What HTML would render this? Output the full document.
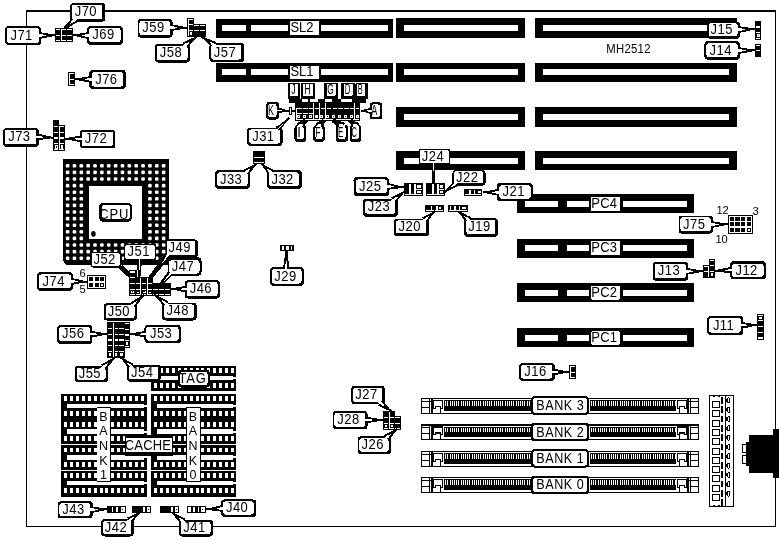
<!DOCTYPE html>
<html><head><meta charset="utf-8"><style>html,body{margin:0;padding:0;background:#fff}svg{display:block;will-change:transform}text{font-family:"Liberation Sans",sans-serif;fill:#000;}text.s{stroke:none}</style></head><body>
<svg width="779" height="540" viewBox="0 0 779 540" shape-rendering="crispEdges">
<rect width="779" height="540" fill="#fff"/>
<rect x="25.60" y="10.20" width="750.80" height="1.50" fill="#000"/>
<rect x="25.60" y="10.20" width="1.40" height="516.80" fill="#000"/>
<rect x="25.60" y="525.50" width="750.80" height="1.50" fill="#000"/>
<rect x="774.90" y="10.20" width="1.50" height="516.80" fill="#000"/>
<rect x="216.00" y="18.90" width="177.00" height="18.95" fill="#000"/>
<rect x="221.90" y="24.70" width="24.20" height="6.40" fill="#fff"/>
<rect x="251.10" y="24.70" width="136.70" height="6.40" fill="#fff"/>
<rect x="216.00" y="63.00" width="177.00" height="18.85" fill="#000"/>
<rect x="221.90" y="69.30" width="24.20" height="6.00" fill="#fff"/>
<rect x="251.10" y="69.30" width="136.70" height="6.00" fill="#fff"/>
<rect x="396.00" y="17.80" width="129.10" height="20.05" fill="#000"/>
<rect x="403.60" y="24.90" width="114.10" height="6.20" fill="#fff"/>
<rect x="535.00" y="17.80" width="201.80" height="20.05" fill="#000"/>
<rect x="543.00" y="24.90" width="186.40" height="6.20" fill="#fff"/>
<rect x="396.00" y="62.50" width="129.10" height="19.35" fill="#000"/>
<rect x="403.60" y="69.30" width="114.10" height="6.00" fill="#fff"/>
<rect x="535.00" y="62.50" width="201.80" height="19.35" fill="#000"/>
<rect x="543.00" y="69.30" width="186.40" height="6.00" fill="#fff"/>
<rect x="396.00" y="106.60" width="129.10" height="20.00" fill="#000"/>
<rect x="403.60" y="113.80" width="114.10" height="6.00" fill="#fff"/>
<rect x="535.00" y="106.60" width="201.80" height="20.00" fill="#000"/>
<rect x="543.00" y="113.80" width="186.40" height="6.00" fill="#fff"/>
<rect x="396.00" y="150.60" width="129.10" height="19.80" fill="#000"/>
<rect x="403.60" y="157.80" width="114.10" height="6.10" fill="#fff"/>
<rect x="535.00" y="150.60" width="201.80" height="19.80" fill="#000"/>
<rect x="543.00" y="157.80" width="186.40" height="6.10" fill="#fff"/>
<rect x="516.90" y="194.10" width="177.10" height="18.70" fill="#000"/>
<rect x="524.70" y="200.90" width="33.60" height="6.10" fill="#fff"/>
<rect x="567.00" y="200.90" width="120.30" height="6.10" fill="#fff"/>
<rect x="516.90" y="238.90" width="177.10" height="18.95" fill="#000"/>
<rect x="524.70" y="244.80" width="33.60" height="6.20" fill="#fff"/>
<rect x="567.00" y="244.80" width="120.30" height="6.20" fill="#fff"/>
<rect x="516.90" y="282.90" width="177.10" height="19.25" fill="#000"/>
<rect x="524.70" y="290.00" width="33.60" height="5.90" fill="#fff"/>
<rect x="567.00" y="290.00" width="120.30" height="5.90" fill="#fff"/>
<rect x="516.90" y="328.20" width="177.10" height="19.00" fill="#000"/>
<rect x="524.70" y="335.30" width="33.60" height="5.60" fill="#fff"/>
<rect x="567.00" y="335.30" width="120.30" height="5.60" fill="#fff"/>
<path d="M63.3,159.0H168.8V264.8H68.3Q63.3,264.8 63.3,259.8Z" fill="#000"/>
<rect x="89.20" y="185.80" width="52.60" height="53.00" fill="#fff"/>
<rect x="65.80" y="164.00" width="3.6" height="3.6" rx="1.2" fill="#fff" shape-rendering="auto"/>
<rect x="72.66" y="164.00" width="3.6" height="3.6" rx="1.2" fill="#fff" shape-rendering="auto"/>
<rect x="79.52" y="164.00" width="3.6" height="3.6" rx="1.2" fill="#fff" shape-rendering="auto"/>
<rect x="86.38" y="164.00" width="3.6" height="3.6" rx="1.2" fill="#fff" shape-rendering="auto"/>
<rect x="93.24" y="164.00" width="3.6" height="3.6" rx="1.2" fill="#fff" shape-rendering="auto"/>
<rect x="100.10" y="164.00" width="3.6" height="3.6" rx="1.2" fill="#fff" shape-rendering="auto"/>
<rect x="106.96" y="164.00" width="3.6" height="3.6" rx="1.2" fill="#fff" shape-rendering="auto"/>
<rect x="113.82" y="164.00" width="3.6" height="3.6" rx="1.2" fill="#fff" shape-rendering="auto"/>
<rect x="120.68" y="164.00" width="3.6" height="3.6" rx="1.2" fill="#fff" shape-rendering="auto"/>
<rect x="127.54" y="164.00" width="3.6" height="3.6" rx="1.2" fill="#fff" shape-rendering="auto"/>
<rect x="134.40" y="164.00" width="3.6" height="3.6" rx="1.2" fill="#fff" shape-rendering="auto"/>
<rect x="141.26" y="164.00" width="3.6" height="3.6" rx="1.2" fill="#fff" shape-rendering="auto"/>
<rect x="148.12" y="164.00" width="3.6" height="3.6" rx="1.2" fill="#fff" shape-rendering="auto"/>
<rect x="154.98" y="164.00" width="3.6" height="3.6" rx="1.2" fill="#fff" shape-rendering="auto"/>
<rect x="161.84" y="164.00" width="3.6" height="3.6" rx="1.2" fill="#fff" shape-rendering="auto"/>
<rect x="65.80" y="170.60" width="3.6" height="3.6" rx="1.2" fill="#fff" shape-rendering="auto"/>
<rect x="72.66" y="170.60" width="3.6" height="3.6" rx="1.2" fill="#fff" shape-rendering="auto"/>
<rect x="79.52" y="170.60" width="3.6" height="3.6" rx="1.2" fill="#fff" shape-rendering="auto"/>
<rect x="86.38" y="170.60" width="3.6" height="3.6" rx="1.2" fill="#fff" shape-rendering="auto"/>
<rect x="93.24" y="170.60" width="3.6" height="3.6" rx="1.2" fill="#fff" shape-rendering="auto"/>
<rect x="100.10" y="170.60" width="3.6" height="3.6" rx="1.2" fill="#fff" shape-rendering="auto"/>
<rect x="106.96" y="170.60" width="3.6" height="3.6" rx="1.2" fill="#fff" shape-rendering="auto"/>
<rect x="113.82" y="170.60" width="3.6" height="3.6" rx="1.2" fill="#fff" shape-rendering="auto"/>
<rect x="120.68" y="170.60" width="3.6" height="3.6" rx="1.2" fill="#fff" shape-rendering="auto"/>
<rect x="127.54" y="170.60" width="3.6" height="3.6" rx="1.2" fill="#fff" shape-rendering="auto"/>
<rect x="134.40" y="170.60" width="3.6" height="3.6" rx="1.2" fill="#fff" shape-rendering="auto"/>
<rect x="141.26" y="170.60" width="3.6" height="3.6" rx="1.2" fill="#fff" shape-rendering="auto"/>
<rect x="148.12" y="170.60" width="3.6" height="3.6" rx="1.2" fill="#fff" shape-rendering="auto"/>
<rect x="154.98" y="170.60" width="3.6" height="3.6" rx="1.2" fill="#fff" shape-rendering="auto"/>
<rect x="161.84" y="170.60" width="3.6" height="3.6" rx="1.2" fill="#fff" shape-rendering="auto"/>
<rect x="65.80" y="177.20" width="3.6" height="3.6" rx="1.2" fill="#fff" shape-rendering="auto"/>
<rect x="72.66" y="177.20" width="3.6" height="3.6" rx="1.2" fill="#fff" shape-rendering="auto"/>
<rect x="79.52" y="177.20" width="3.6" height="3.6" rx="1.2" fill="#fff" shape-rendering="auto"/>
<rect x="86.38" y="177.20" width="3.6" height="3.6" rx="1.2" fill="#fff" shape-rendering="auto"/>
<rect x="93.24" y="177.20" width="3.6" height="3.6" rx="1.2" fill="#fff" shape-rendering="auto"/>
<rect x="100.10" y="177.20" width="3.6" height="3.6" rx="1.2" fill="#fff" shape-rendering="auto"/>
<rect x="106.96" y="177.20" width="3.6" height="3.6" rx="1.2" fill="#fff" shape-rendering="auto"/>
<rect x="113.82" y="177.20" width="3.6" height="3.6" rx="1.2" fill="#fff" shape-rendering="auto"/>
<rect x="120.68" y="177.20" width="3.6" height="3.6" rx="1.2" fill="#fff" shape-rendering="auto"/>
<rect x="127.54" y="177.20" width="3.6" height="3.6" rx="1.2" fill="#fff" shape-rendering="auto"/>
<rect x="134.40" y="177.20" width="3.6" height="3.6" rx="1.2" fill="#fff" shape-rendering="auto"/>
<rect x="141.26" y="177.20" width="3.6" height="3.6" rx="1.2" fill="#fff" shape-rendering="auto"/>
<rect x="148.12" y="177.20" width="3.6" height="3.6" rx="1.2" fill="#fff" shape-rendering="auto"/>
<rect x="154.98" y="177.20" width="3.6" height="3.6" rx="1.2" fill="#fff" shape-rendering="auto"/>
<rect x="161.84" y="177.20" width="3.6" height="3.6" rx="1.2" fill="#fff" shape-rendering="auto"/>
<rect x="65.80" y="183.80" width="3.6" height="3.6" rx="1.2" fill="#fff" shape-rendering="auto"/>
<rect x="72.66" y="183.80" width="3.6" height="3.6" rx="1.2" fill="#fff" shape-rendering="auto"/>
<rect x="79.52" y="183.80" width="3.6" height="3.6" rx="1.2" fill="#fff" shape-rendering="auto"/>
<rect x="148.12" y="183.80" width="3.6" height="3.6" rx="1.2" fill="#fff" shape-rendering="auto"/>
<rect x="154.98" y="183.80" width="3.6" height="3.6" rx="1.2" fill="#fff" shape-rendering="auto"/>
<rect x="161.84" y="183.80" width="3.6" height="3.6" rx="1.2" fill="#fff" shape-rendering="auto"/>
<rect x="65.80" y="190.40" width="3.6" height="3.6" rx="1.2" fill="#fff" shape-rendering="auto"/>
<rect x="72.66" y="190.40" width="3.6" height="3.6" rx="1.2" fill="#fff" shape-rendering="auto"/>
<rect x="79.52" y="190.40" width="3.6" height="3.6" rx="1.2" fill="#fff" shape-rendering="auto"/>
<rect x="148.12" y="190.40" width="3.6" height="3.6" rx="1.2" fill="#fff" shape-rendering="auto"/>
<rect x="154.98" y="190.40" width="3.6" height="3.6" rx="1.2" fill="#fff" shape-rendering="auto"/>
<rect x="161.84" y="190.40" width="3.6" height="3.6" rx="1.2" fill="#fff" shape-rendering="auto"/>
<rect x="65.80" y="197.00" width="3.6" height="3.6" rx="1.2" fill="#fff" shape-rendering="auto"/>
<rect x="72.66" y="197.00" width="3.6" height="3.6" rx="1.2" fill="#fff" shape-rendering="auto"/>
<rect x="79.52" y="197.00" width="3.6" height="3.6" rx="1.2" fill="#fff" shape-rendering="auto"/>
<rect x="148.12" y="197.00" width="3.6" height="3.6" rx="1.2" fill="#fff" shape-rendering="auto"/>
<rect x="154.98" y="197.00" width="3.6" height="3.6" rx="1.2" fill="#fff" shape-rendering="auto"/>
<rect x="161.84" y="197.00" width="3.6" height="3.6" rx="1.2" fill="#fff" shape-rendering="auto"/>
<rect x="65.80" y="203.60" width="3.6" height="3.6" rx="1.2" fill="#fff" shape-rendering="auto"/>
<rect x="72.66" y="203.60" width="3.6" height="3.6" rx="1.2" fill="#fff" shape-rendering="auto"/>
<rect x="79.52" y="203.60" width="3.6" height="3.6" rx="1.2" fill="#fff" shape-rendering="auto"/>
<rect x="148.12" y="203.60" width="3.6" height="3.6" rx="1.2" fill="#fff" shape-rendering="auto"/>
<rect x="154.98" y="203.60" width="3.6" height="3.6" rx="1.2" fill="#fff" shape-rendering="auto"/>
<rect x="161.84" y="203.60" width="3.6" height="3.6" rx="1.2" fill="#fff" shape-rendering="auto"/>
<rect x="65.80" y="210.20" width="3.6" height="3.6" rx="1.2" fill="#fff" shape-rendering="auto"/>
<rect x="72.66" y="210.20" width="3.6" height="3.6" rx="1.2" fill="#fff" shape-rendering="auto"/>
<rect x="79.52" y="210.20" width="3.6" height="3.6" rx="1.2" fill="#fff" shape-rendering="auto"/>
<rect x="148.12" y="210.20" width="3.6" height="3.6" rx="1.2" fill="#fff" shape-rendering="auto"/>
<rect x="154.98" y="210.20" width="3.6" height="3.6" rx="1.2" fill="#fff" shape-rendering="auto"/>
<rect x="161.84" y="210.20" width="3.6" height="3.6" rx="1.2" fill="#fff" shape-rendering="auto"/>
<rect x="65.80" y="216.80" width="3.6" height="3.6" rx="1.2" fill="#fff" shape-rendering="auto"/>
<rect x="72.66" y="216.80" width="3.6" height="3.6" rx="1.2" fill="#fff" shape-rendering="auto"/>
<rect x="79.52" y="216.80" width="3.6" height="3.6" rx="1.2" fill="#fff" shape-rendering="auto"/>
<rect x="148.12" y="216.80" width="3.6" height="3.6" rx="1.2" fill="#fff" shape-rendering="auto"/>
<rect x="154.98" y="216.80" width="3.6" height="3.6" rx="1.2" fill="#fff" shape-rendering="auto"/>
<rect x="161.84" y="216.80" width="3.6" height="3.6" rx="1.2" fill="#fff" shape-rendering="auto"/>
<rect x="65.80" y="223.40" width="3.6" height="3.6" rx="1.2" fill="#fff" shape-rendering="auto"/>
<rect x="72.66" y="223.40" width="3.6" height="3.6" rx="1.2" fill="#fff" shape-rendering="auto"/>
<rect x="79.52" y="223.40" width="3.6" height="3.6" rx="1.2" fill="#fff" shape-rendering="auto"/>
<rect x="148.12" y="223.40" width="3.6" height="3.6" rx="1.2" fill="#fff" shape-rendering="auto"/>
<rect x="154.98" y="223.40" width="3.6" height="3.6" rx="1.2" fill="#fff" shape-rendering="auto"/>
<rect x="161.84" y="223.40" width="3.6" height="3.6" rx="1.2" fill="#fff" shape-rendering="auto"/>
<rect x="65.80" y="230.00" width="3.6" height="3.6" rx="1.2" fill="#fff" shape-rendering="auto"/>
<rect x="72.66" y="230.00" width="3.6" height="3.6" rx="1.2" fill="#fff" shape-rendering="auto"/>
<rect x="79.52" y="230.00" width="3.6" height="3.6" rx="1.2" fill="#fff" shape-rendering="auto"/>
<rect x="148.12" y="230.00" width="3.6" height="3.6" rx="1.2" fill="#fff" shape-rendering="auto"/>
<rect x="154.98" y="230.00" width="3.6" height="3.6" rx="1.2" fill="#fff" shape-rendering="auto"/>
<rect x="161.84" y="230.00" width="3.6" height="3.6" rx="1.2" fill="#fff" shape-rendering="auto"/>
<rect x="65.80" y="236.60" width="3.6" height="3.6" rx="1.2" fill="#fff" shape-rendering="auto"/>
<rect x="72.66" y="236.60" width="3.6" height="3.6" rx="1.2" fill="#fff" shape-rendering="auto"/>
<rect x="79.52" y="236.60" width="3.6" height="3.6" rx="1.2" fill="#fff" shape-rendering="auto"/>
<rect x="148.12" y="236.60" width="3.6" height="3.6" rx="1.2" fill="#fff" shape-rendering="auto"/>
<rect x="154.98" y="236.60" width="3.6" height="3.6" rx="1.2" fill="#fff" shape-rendering="auto"/>
<rect x="161.84" y="236.60" width="3.6" height="3.6" rx="1.2" fill="#fff" shape-rendering="auto"/>
<rect x="65.80" y="243.20" width="3.6" height="3.6" rx="1.2" fill="#fff" shape-rendering="auto"/>
<rect x="72.66" y="243.20" width="3.6" height="3.6" rx="1.2" fill="#fff" shape-rendering="auto"/>
<rect x="79.52" y="243.20" width="3.6" height="3.6" rx="1.2" fill="#fff" shape-rendering="auto"/>
<rect x="86.38" y="243.20" width="3.6" height="3.6" rx="1.2" fill="#fff" shape-rendering="auto"/>
<rect x="93.24" y="243.20" width="3.6" height="3.6" rx="1.2" fill="#fff" shape-rendering="auto"/>
<rect x="100.10" y="243.20" width="3.6" height="3.6" rx="1.2" fill="#fff" shape-rendering="auto"/>
<rect x="106.96" y="243.20" width="3.6" height="3.6" rx="1.2" fill="#fff" shape-rendering="auto"/>
<rect x="113.82" y="243.20" width="3.6" height="3.6" rx="1.2" fill="#fff" shape-rendering="auto"/>
<rect x="120.68" y="243.20" width="3.6" height="3.6" rx="1.2" fill="#fff" shape-rendering="auto"/>
<rect x="127.54" y="243.20" width="3.6" height="3.6" rx="1.2" fill="#fff" shape-rendering="auto"/>
<rect x="134.40" y="243.20" width="3.6" height="3.6" rx="1.2" fill="#fff" shape-rendering="auto"/>
<rect x="141.26" y="243.20" width="3.6" height="3.6" rx="1.2" fill="#fff" shape-rendering="auto"/>
<rect x="148.12" y="243.20" width="3.6" height="3.6" rx="1.2" fill="#fff" shape-rendering="auto"/>
<rect x="154.98" y="243.20" width="3.6" height="3.6" rx="1.2" fill="#fff" shape-rendering="auto"/>
<rect x="161.84" y="243.20" width="3.6" height="3.6" rx="1.2" fill="#fff" shape-rendering="auto"/>
<rect x="65.80" y="249.80" width="3.6" height="3.6" rx="1.2" fill="#fff" shape-rendering="auto"/>
<rect x="72.66" y="249.80" width="3.6" height="3.6" rx="1.2" fill="#fff" shape-rendering="auto"/>
<rect x="79.52" y="249.80" width="3.6" height="3.6" rx="1.2" fill="#fff" shape-rendering="auto"/>
<rect x="86.38" y="249.80" width="3.6" height="3.6" rx="1.2" fill="#fff" shape-rendering="auto"/>
<rect x="93.24" y="249.80" width="3.6" height="3.6" rx="1.2" fill="#fff" shape-rendering="auto"/>
<rect x="100.10" y="249.80" width="3.6" height="3.6" rx="1.2" fill="#fff" shape-rendering="auto"/>
<rect x="106.96" y="249.80" width="3.6" height="3.6" rx="1.2" fill="#fff" shape-rendering="auto"/>
<rect x="113.82" y="249.80" width="3.6" height="3.6" rx="1.2" fill="#fff" shape-rendering="auto"/>
<rect x="120.68" y="249.80" width="3.6" height="3.6" rx="1.2" fill="#fff" shape-rendering="auto"/>
<rect x="127.54" y="249.80" width="3.6" height="3.6" rx="1.2" fill="#fff" shape-rendering="auto"/>
<rect x="134.40" y="249.80" width="3.6" height="3.6" rx="1.2" fill="#fff" shape-rendering="auto"/>
<rect x="141.26" y="249.80" width="3.6" height="3.6" rx="1.2" fill="#fff" shape-rendering="auto"/>
<rect x="148.12" y="249.80" width="3.6" height="3.6" rx="1.2" fill="#fff" shape-rendering="auto"/>
<rect x="154.98" y="249.80" width="3.6" height="3.6" rx="1.2" fill="#fff" shape-rendering="auto"/>
<rect x="161.84" y="249.80" width="3.6" height="3.6" rx="1.2" fill="#fff" shape-rendering="auto"/>
<rect x="65.80" y="256.40" width="3.6" height="3.6" rx="1.2" fill="#fff" shape-rendering="auto"/>
<rect x="72.66" y="256.40" width="3.6" height="3.6" rx="1.2" fill="#fff" shape-rendering="auto"/>
<rect x="79.52" y="256.40" width="3.6" height="3.6" rx="1.2" fill="#fff" shape-rendering="auto"/>
<rect x="86.38" y="256.40" width="3.6" height="3.6" rx="1.2" fill="#fff" shape-rendering="auto"/>
<rect x="93.24" y="256.40" width="3.6" height="3.6" rx="1.2" fill="#fff" shape-rendering="auto"/>
<rect x="100.10" y="256.40" width="3.6" height="3.6" rx="1.2" fill="#fff" shape-rendering="auto"/>
<rect x="106.96" y="256.40" width="3.6" height="3.6" rx="1.2" fill="#fff" shape-rendering="auto"/>
<rect x="113.82" y="256.40" width="3.6" height="3.6" rx="1.2" fill="#fff" shape-rendering="auto"/>
<rect x="120.68" y="256.40" width="3.6" height="3.6" rx="1.2" fill="#fff" shape-rendering="auto"/>
<rect x="127.54" y="256.40" width="3.6" height="3.6" rx="1.2" fill="#fff" shape-rendering="auto"/>
<rect x="134.40" y="256.40" width="3.6" height="3.6" rx="1.2" fill="#fff" shape-rendering="auto"/>
<rect x="141.26" y="256.40" width="3.6" height="3.6" rx="1.2" fill="#fff" shape-rendering="auto"/>
<rect x="148.12" y="256.40" width="3.6" height="3.6" rx="1.2" fill="#fff" shape-rendering="auto"/>
<rect x="154.98" y="256.40" width="3.6" height="3.6" rx="1.2" fill="#fff" shape-rendering="auto"/>
<rect x="161.84" y="256.40" width="3.6" height="3.6" rx="1.2" fill="#fff" shape-rendering="auto"/>
<ellipse cx="93.4" cy="233.8" rx="2.3" ry="2.9" fill="#000" shape-rendering="auto"/>
<rect x="60.90" y="393.80" width="85.60" height="103.40" fill="#000"/>
<rect x="60.90" y="394.00" width="85.60" height="24.40" fill="#000"/>
<rect x="64.10" y="396.00" width="3.07" height="4.70" fill="#fff"/>
<rect x="64.10" y="410.60" width="3.07" height="5.00" fill="#fff"/>
<rect x="70.00" y="396.00" width="3.07" height="4.70" fill="#fff"/>
<rect x="70.00" y="410.60" width="3.07" height="5.00" fill="#fff"/>
<rect x="75.90" y="396.00" width="3.07" height="4.70" fill="#fff"/>
<rect x="75.90" y="410.60" width="3.07" height="5.00" fill="#fff"/>
<rect x="81.80" y="396.00" width="3.07" height="4.70" fill="#fff"/>
<rect x="81.80" y="410.60" width="3.07" height="5.00" fill="#fff"/>
<rect x="87.70" y="396.00" width="3.07" height="4.70" fill="#fff"/>
<rect x="87.70" y="410.60" width="3.07" height="5.00" fill="#fff"/>
<rect x="93.60" y="396.00" width="3.07" height="4.70" fill="#fff"/>
<rect x="93.60" y="410.60" width="3.07" height="5.00" fill="#fff"/>
<rect x="99.50" y="396.00" width="3.07" height="4.70" fill="#fff"/>
<rect x="99.50" y="410.60" width="3.07" height="5.00" fill="#fff"/>
<rect x="105.40" y="396.00" width="3.07" height="4.70" fill="#fff"/>
<rect x="105.40" y="410.60" width="3.07" height="5.00" fill="#fff"/>
<rect x="111.30" y="396.00" width="3.07" height="4.70" fill="#fff"/>
<rect x="111.30" y="410.60" width="3.07" height="5.00" fill="#fff"/>
<rect x="117.20" y="396.00" width="3.07" height="4.70" fill="#fff"/>
<rect x="117.20" y="410.60" width="3.07" height="5.00" fill="#fff"/>
<rect x="123.10" y="396.00" width="3.07" height="4.70" fill="#fff"/>
<rect x="123.10" y="410.60" width="3.07" height="5.00" fill="#fff"/>
<rect x="129.00" y="396.00" width="3.07" height="4.70" fill="#fff"/>
<rect x="129.00" y="410.60" width="3.07" height="5.00" fill="#fff"/>
<rect x="134.90" y="396.00" width="3.07" height="4.70" fill="#fff"/>
<rect x="134.90" y="410.60" width="3.07" height="5.00" fill="#fff"/>
<rect x="140.80" y="396.00" width="3.07" height="4.70" fill="#fff"/>
<rect x="140.80" y="410.60" width="3.07" height="5.00" fill="#fff"/>
<rect x="66.70" y="403.50" width="76.80" height="4.50" fill="#fff"/>
<rect x="143.50" y="404.80" width="3.00" height="2.00" fill="#fff"/>
<rect x="60.90" y="418.60" width="85.60" height="0.70" fill="#fff"/>
<rect x="60.90" y="419.80" width="85.60" height="24.40" fill="#000"/>
<rect x="64.10" y="421.80" width="3.07" height="4.70" fill="#fff"/>
<rect x="64.10" y="436.40" width="3.07" height="5.00" fill="#fff"/>
<rect x="70.00" y="421.80" width="3.07" height="4.70" fill="#fff"/>
<rect x="70.00" y="436.40" width="3.07" height="5.00" fill="#fff"/>
<rect x="75.90" y="421.80" width="3.07" height="4.70" fill="#fff"/>
<rect x="75.90" y="436.40" width="3.07" height="5.00" fill="#fff"/>
<rect x="81.80" y="421.80" width="3.07" height="4.70" fill="#fff"/>
<rect x="81.80" y="436.40" width="3.07" height="5.00" fill="#fff"/>
<rect x="87.70" y="421.80" width="3.07" height="4.70" fill="#fff"/>
<rect x="87.70" y="436.40" width="3.07" height="5.00" fill="#fff"/>
<rect x="93.60" y="421.80" width="3.07" height="4.70" fill="#fff"/>
<rect x="93.60" y="436.40" width="3.07" height="5.00" fill="#fff"/>
<rect x="99.50" y="421.80" width="3.07" height="4.70" fill="#fff"/>
<rect x="99.50" y="436.40" width="3.07" height="5.00" fill="#fff"/>
<rect x="105.40" y="421.80" width="3.07" height="4.70" fill="#fff"/>
<rect x="105.40" y="436.40" width="3.07" height="5.00" fill="#fff"/>
<rect x="111.30" y="421.80" width="3.07" height="4.70" fill="#fff"/>
<rect x="111.30" y="436.40" width="3.07" height="5.00" fill="#fff"/>
<rect x="117.20" y="421.80" width="3.07" height="4.70" fill="#fff"/>
<rect x="117.20" y="436.40" width="3.07" height="5.00" fill="#fff"/>
<rect x="123.10" y="421.80" width="3.07" height="4.70" fill="#fff"/>
<rect x="123.10" y="436.40" width="3.07" height="5.00" fill="#fff"/>
<rect x="129.00" y="421.80" width="3.07" height="4.70" fill="#fff"/>
<rect x="129.00" y="436.40" width="3.07" height="5.00" fill="#fff"/>
<rect x="134.90" y="421.80" width="3.07" height="4.70" fill="#fff"/>
<rect x="134.90" y="436.40" width="3.07" height="5.00" fill="#fff"/>
<rect x="140.80" y="421.80" width="3.07" height="4.70" fill="#fff"/>
<rect x="140.80" y="436.40" width="3.07" height="5.00" fill="#fff"/>
<rect x="66.70" y="429.30" width="76.80" height="4.50" fill="#fff"/>
<rect x="143.50" y="430.60" width="3.00" height="2.00" fill="#fff"/>
<rect x="60.90" y="444.40" width="85.60" height="0.70" fill="#fff"/>
<rect x="60.90" y="445.60" width="85.60" height="24.40" fill="#000"/>
<rect x="64.10" y="447.60" width="3.07" height="4.70" fill="#fff"/>
<rect x="64.10" y="462.20" width="3.07" height="5.00" fill="#fff"/>
<rect x="70.00" y="447.60" width="3.07" height="4.70" fill="#fff"/>
<rect x="70.00" y="462.20" width="3.07" height="5.00" fill="#fff"/>
<rect x="75.90" y="447.60" width="3.07" height="4.70" fill="#fff"/>
<rect x="75.90" y="462.20" width="3.07" height="5.00" fill="#fff"/>
<rect x="81.80" y="447.60" width="3.07" height="4.70" fill="#fff"/>
<rect x="81.80" y="462.20" width="3.07" height="5.00" fill="#fff"/>
<rect x="87.70" y="447.60" width="3.07" height="4.70" fill="#fff"/>
<rect x="87.70" y="462.20" width="3.07" height="5.00" fill="#fff"/>
<rect x="93.60" y="447.60" width="3.07" height="4.70" fill="#fff"/>
<rect x="93.60" y="462.20" width="3.07" height="5.00" fill="#fff"/>
<rect x="99.50" y="447.60" width="3.07" height="4.70" fill="#fff"/>
<rect x="99.50" y="462.20" width="3.07" height="5.00" fill="#fff"/>
<rect x="105.40" y="447.60" width="3.07" height="4.70" fill="#fff"/>
<rect x="105.40" y="462.20" width="3.07" height="5.00" fill="#fff"/>
<rect x="111.30" y="447.60" width="3.07" height="4.70" fill="#fff"/>
<rect x="111.30" y="462.20" width="3.07" height="5.00" fill="#fff"/>
<rect x="117.20" y="447.60" width="3.07" height="4.70" fill="#fff"/>
<rect x="117.20" y="462.20" width="3.07" height="5.00" fill="#fff"/>
<rect x="123.10" y="447.60" width="3.07" height="4.70" fill="#fff"/>
<rect x="123.10" y="462.20" width="3.07" height="5.00" fill="#fff"/>
<rect x="129.00" y="447.60" width="3.07" height="4.70" fill="#fff"/>
<rect x="129.00" y="462.20" width="3.07" height="5.00" fill="#fff"/>
<rect x="134.90" y="447.60" width="3.07" height="4.70" fill="#fff"/>
<rect x="134.90" y="462.20" width="3.07" height="5.00" fill="#fff"/>
<rect x="140.80" y="447.60" width="3.07" height="4.70" fill="#fff"/>
<rect x="140.80" y="462.20" width="3.07" height="5.00" fill="#fff"/>
<rect x="66.70" y="455.10" width="76.80" height="4.50" fill="#fff"/>
<rect x="143.50" y="456.40" width="3.00" height="2.00" fill="#fff"/>
<rect x="60.90" y="470.20" width="85.60" height="0.70" fill="#fff"/>
<rect x="60.90" y="471.40" width="85.60" height="24.40" fill="#000"/>
<rect x="64.10" y="473.40" width="3.07" height="4.70" fill="#fff"/>
<rect x="64.10" y="488.00" width="3.07" height="5.00" fill="#fff"/>
<rect x="70.00" y="473.40" width="3.07" height="4.70" fill="#fff"/>
<rect x="70.00" y="488.00" width="3.07" height="5.00" fill="#fff"/>
<rect x="75.90" y="473.40" width="3.07" height="4.70" fill="#fff"/>
<rect x="75.90" y="488.00" width="3.07" height="5.00" fill="#fff"/>
<rect x="81.80" y="473.40" width="3.07" height="4.70" fill="#fff"/>
<rect x="81.80" y="488.00" width="3.07" height="5.00" fill="#fff"/>
<rect x="87.70" y="473.40" width="3.07" height="4.70" fill="#fff"/>
<rect x="87.70" y="488.00" width="3.07" height="5.00" fill="#fff"/>
<rect x="93.60" y="473.40" width="3.07" height="4.70" fill="#fff"/>
<rect x="93.60" y="488.00" width="3.07" height="5.00" fill="#fff"/>
<rect x="99.50" y="473.40" width="3.07" height="4.70" fill="#fff"/>
<rect x="99.50" y="488.00" width="3.07" height="5.00" fill="#fff"/>
<rect x="105.40" y="473.40" width="3.07" height="4.70" fill="#fff"/>
<rect x="105.40" y="488.00" width="3.07" height="5.00" fill="#fff"/>
<rect x="111.30" y="473.40" width="3.07" height="4.70" fill="#fff"/>
<rect x="111.30" y="488.00" width="3.07" height="5.00" fill="#fff"/>
<rect x="117.20" y="473.40" width="3.07" height="4.70" fill="#fff"/>
<rect x="117.20" y="488.00" width="3.07" height="5.00" fill="#fff"/>
<rect x="123.10" y="473.40" width="3.07" height="4.70" fill="#fff"/>
<rect x="123.10" y="488.00" width="3.07" height="5.00" fill="#fff"/>
<rect x="129.00" y="473.40" width="3.07" height="4.70" fill="#fff"/>
<rect x="129.00" y="488.00" width="3.07" height="5.00" fill="#fff"/>
<rect x="134.90" y="473.40" width="3.07" height="4.70" fill="#fff"/>
<rect x="134.90" y="488.00" width="3.07" height="5.00" fill="#fff"/>
<rect x="140.80" y="473.40" width="3.07" height="4.70" fill="#fff"/>
<rect x="140.80" y="488.00" width="3.07" height="5.00" fill="#fff"/>
<rect x="66.70" y="480.90" width="76.80" height="4.50" fill="#fff"/>
<rect x="143.50" y="482.20" width="3.00" height="2.00" fill="#fff"/>
<rect x="151.20" y="393.80" width="85.20" height="103.40" fill="#000"/>
<rect x="151.20" y="394.00" width="85.20" height="24.40" fill="#000"/>
<rect x="154.40" y="396.00" width="3.05" height="4.70" fill="#fff"/>
<rect x="154.40" y="410.60" width="3.05" height="5.00" fill="#fff"/>
<rect x="160.27" y="396.00" width="3.05" height="4.70" fill="#fff"/>
<rect x="160.27" y="410.60" width="3.05" height="5.00" fill="#fff"/>
<rect x="166.14" y="396.00" width="3.05" height="4.70" fill="#fff"/>
<rect x="166.14" y="410.60" width="3.05" height="5.00" fill="#fff"/>
<rect x="172.01" y="396.00" width="3.05" height="4.70" fill="#fff"/>
<rect x="172.01" y="410.60" width="3.05" height="5.00" fill="#fff"/>
<rect x="177.89" y="396.00" width="3.05" height="4.70" fill="#fff"/>
<rect x="177.89" y="410.60" width="3.05" height="5.00" fill="#fff"/>
<rect x="183.76" y="396.00" width="3.05" height="4.70" fill="#fff"/>
<rect x="183.76" y="410.60" width="3.05" height="5.00" fill="#fff"/>
<rect x="189.63" y="396.00" width="3.05" height="4.70" fill="#fff"/>
<rect x="189.63" y="410.60" width="3.05" height="5.00" fill="#fff"/>
<rect x="195.50" y="396.00" width="3.05" height="4.70" fill="#fff"/>
<rect x="195.50" y="410.60" width="3.05" height="5.00" fill="#fff"/>
<rect x="201.37" y="396.00" width="3.05" height="4.70" fill="#fff"/>
<rect x="201.37" y="410.60" width="3.05" height="5.00" fill="#fff"/>
<rect x="207.24" y="396.00" width="3.05" height="4.70" fill="#fff"/>
<rect x="207.24" y="410.60" width="3.05" height="5.00" fill="#fff"/>
<rect x="213.11" y="396.00" width="3.05" height="4.70" fill="#fff"/>
<rect x="213.11" y="410.60" width="3.05" height="5.00" fill="#fff"/>
<rect x="218.99" y="396.00" width="3.05" height="4.70" fill="#fff"/>
<rect x="218.99" y="410.60" width="3.05" height="5.00" fill="#fff"/>
<rect x="224.86" y="396.00" width="3.05" height="4.70" fill="#fff"/>
<rect x="224.86" y="410.60" width="3.05" height="5.00" fill="#fff"/>
<rect x="230.73" y="396.00" width="3.05" height="4.70" fill="#fff"/>
<rect x="230.73" y="410.60" width="3.05" height="5.00" fill="#fff"/>
<rect x="157.00" y="403.50" width="76.40" height="4.50" fill="#fff"/>
<rect x="233.40" y="404.80" width="3.00" height="2.00" fill="#fff"/>
<rect x="151.20" y="418.60" width="85.20" height="0.70" fill="#fff"/>
<rect x="151.20" y="419.80" width="85.20" height="24.40" fill="#000"/>
<rect x="154.40" y="421.80" width="3.05" height="4.70" fill="#fff"/>
<rect x="154.40" y="436.40" width="3.05" height="5.00" fill="#fff"/>
<rect x="160.27" y="421.80" width="3.05" height="4.70" fill="#fff"/>
<rect x="160.27" y="436.40" width="3.05" height="5.00" fill="#fff"/>
<rect x="166.14" y="421.80" width="3.05" height="4.70" fill="#fff"/>
<rect x="166.14" y="436.40" width="3.05" height="5.00" fill="#fff"/>
<rect x="172.01" y="421.80" width="3.05" height="4.70" fill="#fff"/>
<rect x="172.01" y="436.40" width="3.05" height="5.00" fill="#fff"/>
<rect x="177.89" y="421.80" width="3.05" height="4.70" fill="#fff"/>
<rect x="177.89" y="436.40" width="3.05" height="5.00" fill="#fff"/>
<rect x="183.76" y="421.80" width="3.05" height="4.70" fill="#fff"/>
<rect x="183.76" y="436.40" width="3.05" height="5.00" fill="#fff"/>
<rect x="189.63" y="421.80" width="3.05" height="4.70" fill="#fff"/>
<rect x="189.63" y="436.40" width="3.05" height="5.00" fill="#fff"/>
<rect x="195.50" y="421.80" width="3.05" height="4.70" fill="#fff"/>
<rect x="195.50" y="436.40" width="3.05" height="5.00" fill="#fff"/>
<rect x="201.37" y="421.80" width="3.05" height="4.70" fill="#fff"/>
<rect x="201.37" y="436.40" width="3.05" height="5.00" fill="#fff"/>
<rect x="207.24" y="421.80" width="3.05" height="4.70" fill="#fff"/>
<rect x="207.24" y="436.40" width="3.05" height="5.00" fill="#fff"/>
<rect x="213.11" y="421.80" width="3.05" height="4.70" fill="#fff"/>
<rect x="213.11" y="436.40" width="3.05" height="5.00" fill="#fff"/>
<rect x="218.99" y="421.80" width="3.05" height="4.70" fill="#fff"/>
<rect x="218.99" y="436.40" width="3.05" height="5.00" fill="#fff"/>
<rect x="224.86" y="421.80" width="3.05" height="4.70" fill="#fff"/>
<rect x="224.86" y="436.40" width="3.05" height="5.00" fill="#fff"/>
<rect x="230.73" y="421.80" width="3.05" height="4.70" fill="#fff"/>
<rect x="230.73" y="436.40" width="3.05" height="5.00" fill="#fff"/>
<rect x="157.00" y="429.30" width="76.40" height="4.50" fill="#fff"/>
<rect x="233.40" y="430.60" width="3.00" height="2.00" fill="#fff"/>
<rect x="151.20" y="444.40" width="85.20" height="0.70" fill="#fff"/>
<rect x="151.20" y="445.60" width="85.20" height="24.40" fill="#000"/>
<rect x="154.40" y="447.60" width="3.05" height="4.70" fill="#fff"/>
<rect x="154.40" y="462.20" width="3.05" height="5.00" fill="#fff"/>
<rect x="160.27" y="447.60" width="3.05" height="4.70" fill="#fff"/>
<rect x="160.27" y="462.20" width="3.05" height="5.00" fill="#fff"/>
<rect x="166.14" y="447.60" width="3.05" height="4.70" fill="#fff"/>
<rect x="166.14" y="462.20" width="3.05" height="5.00" fill="#fff"/>
<rect x="172.01" y="447.60" width="3.05" height="4.70" fill="#fff"/>
<rect x="172.01" y="462.20" width="3.05" height="5.00" fill="#fff"/>
<rect x="177.89" y="447.60" width="3.05" height="4.70" fill="#fff"/>
<rect x="177.89" y="462.20" width="3.05" height="5.00" fill="#fff"/>
<rect x="183.76" y="447.60" width="3.05" height="4.70" fill="#fff"/>
<rect x="183.76" y="462.20" width="3.05" height="5.00" fill="#fff"/>
<rect x="189.63" y="447.60" width="3.05" height="4.70" fill="#fff"/>
<rect x="189.63" y="462.20" width="3.05" height="5.00" fill="#fff"/>
<rect x="195.50" y="447.60" width="3.05" height="4.70" fill="#fff"/>
<rect x="195.50" y="462.20" width="3.05" height="5.00" fill="#fff"/>
<rect x="201.37" y="447.60" width="3.05" height="4.70" fill="#fff"/>
<rect x="201.37" y="462.20" width="3.05" height="5.00" fill="#fff"/>
<rect x="207.24" y="447.60" width="3.05" height="4.70" fill="#fff"/>
<rect x="207.24" y="462.20" width="3.05" height="5.00" fill="#fff"/>
<rect x="213.11" y="447.60" width="3.05" height="4.70" fill="#fff"/>
<rect x="213.11" y="462.20" width="3.05" height="5.00" fill="#fff"/>
<rect x="218.99" y="447.60" width="3.05" height="4.70" fill="#fff"/>
<rect x="218.99" y="462.20" width="3.05" height="5.00" fill="#fff"/>
<rect x="224.86" y="447.60" width="3.05" height="4.70" fill="#fff"/>
<rect x="224.86" y="462.20" width="3.05" height="5.00" fill="#fff"/>
<rect x="230.73" y="447.60" width="3.05" height="4.70" fill="#fff"/>
<rect x="230.73" y="462.20" width="3.05" height="5.00" fill="#fff"/>
<rect x="157.00" y="455.10" width="76.40" height="4.50" fill="#fff"/>
<rect x="233.40" y="456.40" width="3.00" height="2.00" fill="#fff"/>
<rect x="151.20" y="470.20" width="85.20" height="0.70" fill="#fff"/>
<rect x="151.20" y="471.40" width="85.20" height="24.40" fill="#000"/>
<rect x="154.40" y="473.40" width="3.05" height="4.70" fill="#fff"/>
<rect x="154.40" y="488.00" width="3.05" height="5.00" fill="#fff"/>
<rect x="160.27" y="473.40" width="3.05" height="4.70" fill="#fff"/>
<rect x="160.27" y="488.00" width="3.05" height="5.00" fill="#fff"/>
<rect x="166.14" y="473.40" width="3.05" height="4.70" fill="#fff"/>
<rect x="166.14" y="488.00" width="3.05" height="5.00" fill="#fff"/>
<rect x="172.01" y="473.40" width="3.05" height="4.70" fill="#fff"/>
<rect x="172.01" y="488.00" width="3.05" height="5.00" fill="#fff"/>
<rect x="177.89" y="473.40" width="3.05" height="4.70" fill="#fff"/>
<rect x="177.89" y="488.00" width="3.05" height="5.00" fill="#fff"/>
<rect x="183.76" y="473.40" width="3.05" height="4.70" fill="#fff"/>
<rect x="183.76" y="488.00" width="3.05" height="5.00" fill="#fff"/>
<rect x="189.63" y="473.40" width="3.05" height="4.70" fill="#fff"/>
<rect x="189.63" y="488.00" width="3.05" height="5.00" fill="#fff"/>
<rect x="195.50" y="473.40" width="3.05" height="4.70" fill="#fff"/>
<rect x="195.50" y="488.00" width="3.05" height="5.00" fill="#fff"/>
<rect x="201.37" y="473.40" width="3.05" height="4.70" fill="#fff"/>
<rect x="201.37" y="488.00" width="3.05" height="5.00" fill="#fff"/>
<rect x="207.24" y="473.40" width="3.05" height="4.70" fill="#fff"/>
<rect x="207.24" y="488.00" width="3.05" height="5.00" fill="#fff"/>
<rect x="213.11" y="473.40" width="3.05" height="4.70" fill="#fff"/>
<rect x="213.11" y="488.00" width="3.05" height="5.00" fill="#fff"/>
<rect x="218.99" y="473.40" width="3.05" height="4.70" fill="#fff"/>
<rect x="218.99" y="488.00" width="3.05" height="5.00" fill="#fff"/>
<rect x="224.86" y="473.40" width="3.05" height="4.70" fill="#fff"/>
<rect x="224.86" y="488.00" width="3.05" height="5.00" fill="#fff"/>
<rect x="230.73" y="473.40" width="3.05" height="4.70" fill="#fff"/>
<rect x="230.73" y="488.00" width="3.05" height="5.00" fill="#fff"/>
<rect x="157.00" y="480.90" width="76.40" height="4.50" fill="#fff"/>
<rect x="233.40" y="482.20" width="3.00" height="2.00" fill="#fff"/>
<rect x="151.20" y="366.30" width="85.20" height="24.50" fill="#000"/>
<rect x="151.20" y="366.30" width="85.20" height="24.40" fill="#000"/>
<rect x="154.40" y="368.30" width="3.05" height="4.70" fill="#fff"/>
<rect x="154.40" y="382.90" width="3.05" height="5.00" fill="#fff"/>
<rect x="160.27" y="368.30" width="3.05" height="4.70" fill="#fff"/>
<rect x="160.27" y="382.90" width="3.05" height="5.00" fill="#fff"/>
<rect x="166.14" y="368.30" width="3.05" height="4.70" fill="#fff"/>
<rect x="166.14" y="382.90" width="3.05" height="5.00" fill="#fff"/>
<rect x="172.01" y="368.30" width="3.05" height="4.70" fill="#fff"/>
<rect x="172.01" y="382.90" width="3.05" height="5.00" fill="#fff"/>
<rect x="177.89" y="368.30" width="3.05" height="4.70" fill="#fff"/>
<rect x="177.89" y="382.90" width="3.05" height="5.00" fill="#fff"/>
<rect x="183.76" y="368.30" width="3.05" height="4.70" fill="#fff"/>
<rect x="183.76" y="382.90" width="3.05" height="5.00" fill="#fff"/>
<rect x="189.63" y="368.30" width="3.05" height="4.70" fill="#fff"/>
<rect x="189.63" y="382.90" width="3.05" height="5.00" fill="#fff"/>
<rect x="195.50" y="368.30" width="3.05" height="4.70" fill="#fff"/>
<rect x="195.50" y="382.90" width="3.05" height="5.00" fill="#fff"/>
<rect x="201.37" y="368.30" width="3.05" height="4.70" fill="#fff"/>
<rect x="201.37" y="382.90" width="3.05" height="5.00" fill="#fff"/>
<rect x="207.24" y="368.30" width="3.05" height="4.70" fill="#fff"/>
<rect x="207.24" y="382.90" width="3.05" height="5.00" fill="#fff"/>
<rect x="213.11" y="368.30" width="3.05" height="4.70" fill="#fff"/>
<rect x="213.11" y="382.90" width="3.05" height="5.00" fill="#fff"/>
<rect x="218.99" y="368.30" width="3.05" height="4.70" fill="#fff"/>
<rect x="218.99" y="382.90" width="3.05" height="5.00" fill="#fff"/>
<rect x="224.86" y="368.30" width="3.05" height="4.70" fill="#fff"/>
<rect x="224.86" y="382.90" width="3.05" height="5.00" fill="#fff"/>
<rect x="230.73" y="368.30" width="3.05" height="4.70" fill="#fff"/>
<rect x="230.73" y="382.90" width="3.05" height="5.00" fill="#fff"/>
<rect x="157.00" y="375.80" width="76.40" height="4.50" fill="#fff"/>
<rect x="233.40" y="377.10" width="3.00" height="2.00" fill="#fff"/>
<rect x="709.00" y="395.00" width="25.00" height="111.70" fill="#000"/>
<rect x="710.00" y="396.00" width="23.00" height="109.70" fill="#fff"/>
<rect x="712.00" y="401.00" width="7.90" height="7.00" fill="#000"/>
<rect x="713.00" y="402.00" width="5.90" height="5.00" fill="#fff"/>
<rect x="721.20" y="397.00" width="1.70" height="6.60" fill="#000"/>
<rect x="727.40" y="397.40" width="2.60" height="6.00" fill="#000" rx="1"/>
<rect x="728.30" y="398.40" width="0.80" height="4.00" fill="#fff"/>
<rect x="725.50" y="398.80" width="2.10" height="3.20" fill="#000"/>
<rect x="712.00" y="410.31" width="7.90" height="7.00" fill="#000"/>
<rect x="713.00" y="411.31" width="5.90" height="5.00" fill="#fff"/>
<rect x="721.20" y="406.31" width="1.70" height="6.60" fill="#000"/>
<rect x="727.40" y="406.71" width="2.60" height="6.00" fill="#000" rx="1"/>
<rect x="728.30" y="407.71" width="0.80" height="4.00" fill="#fff"/>
<rect x="725.50" y="408.11" width="2.10" height="3.20" fill="#000"/>
<rect x="712.00" y="419.62" width="7.90" height="7.00" fill="#000"/>
<rect x="713.00" y="420.62" width="5.90" height="5.00" fill="#fff"/>
<rect x="721.20" y="415.62" width="1.70" height="6.60" fill="#000"/>
<rect x="727.40" y="416.02" width="2.60" height="6.00" fill="#000" rx="1"/>
<rect x="728.30" y="417.02" width="0.80" height="4.00" fill="#fff"/>
<rect x="725.50" y="417.42" width="2.10" height="3.20" fill="#000"/>
<rect x="712.00" y="428.93" width="7.90" height="7.00" fill="#000"/>
<rect x="713.00" y="429.93" width="5.90" height="5.00" fill="#fff"/>
<rect x="721.20" y="424.93" width="1.70" height="6.60" fill="#000"/>
<rect x="727.40" y="425.33" width="2.60" height="6.00" fill="#000" rx="1"/>
<rect x="728.30" y="426.33" width="0.80" height="4.00" fill="#fff"/>
<rect x="725.50" y="426.73" width="2.10" height="3.20" fill="#000"/>
<rect x="712.00" y="438.24" width="7.90" height="7.00" fill="#000"/>
<rect x="713.00" y="439.24" width="5.90" height="5.00" fill="#fff"/>
<rect x="721.20" y="434.24" width="1.70" height="6.60" fill="#000"/>
<rect x="727.40" y="434.64" width="2.60" height="6.00" fill="#000" rx="1"/>
<rect x="728.30" y="435.64" width="0.80" height="4.00" fill="#fff"/>
<rect x="725.50" y="436.04" width="2.10" height="3.20" fill="#000"/>
<rect x="712.00" y="447.55" width="7.90" height="7.00" fill="#000"/>
<rect x="713.00" y="448.55" width="5.90" height="5.00" fill="#fff"/>
<rect x="721.20" y="443.55" width="1.70" height="6.60" fill="#000"/>
<rect x="727.40" y="443.95" width="2.60" height="6.00" fill="#000" rx="1"/>
<rect x="728.30" y="444.95" width="0.80" height="4.00" fill="#fff"/>
<rect x="725.50" y="445.35" width="2.10" height="3.20" fill="#000"/>
<rect x="712.00" y="456.86" width="7.90" height="7.00" fill="#000"/>
<rect x="713.00" y="457.86" width="5.90" height="5.00" fill="#fff"/>
<rect x="721.20" y="452.86" width="1.70" height="6.60" fill="#000"/>
<rect x="727.40" y="453.26" width="2.60" height="6.00" fill="#000" rx="1"/>
<rect x="728.30" y="454.26" width="0.80" height="4.00" fill="#fff"/>
<rect x="725.50" y="454.66" width="2.10" height="3.20" fill="#000"/>
<rect x="712.00" y="466.17" width="7.90" height="7.00" fill="#000"/>
<rect x="713.00" y="467.17" width="5.90" height="5.00" fill="#fff"/>
<rect x="721.20" y="462.17" width="1.70" height="6.60" fill="#000"/>
<rect x="727.40" y="462.57" width="2.60" height="6.00" fill="#000" rx="1"/>
<rect x="728.30" y="463.57" width="0.80" height="4.00" fill="#fff"/>
<rect x="725.50" y="463.97" width="2.10" height="3.20" fill="#000"/>
<rect x="712.00" y="475.48" width="7.90" height="7.00" fill="#000"/>
<rect x="713.00" y="476.48" width="5.90" height="5.00" fill="#fff"/>
<rect x="721.20" y="471.48" width="1.70" height="6.60" fill="#000"/>
<rect x="727.40" y="471.88" width="2.60" height="6.00" fill="#000" rx="1"/>
<rect x="728.30" y="472.88" width="0.80" height="4.00" fill="#fff"/>
<rect x="725.50" y="473.28" width="2.10" height="3.20" fill="#000"/>
<rect x="712.00" y="484.79" width="7.90" height="7.00" fill="#000"/>
<rect x="713.00" y="485.79" width="5.90" height="5.00" fill="#fff"/>
<rect x="721.20" y="480.79" width="1.70" height="6.60" fill="#000"/>
<rect x="727.40" y="481.19" width="2.60" height="6.00" fill="#000" rx="1"/>
<rect x="728.30" y="482.19" width="0.80" height="4.00" fill="#fff"/>
<rect x="725.50" y="482.59" width="2.10" height="3.20" fill="#000"/>
<rect x="712.00" y="494.10" width="7.90" height="7.00" fill="#000"/>
<rect x="713.00" y="495.10" width="5.90" height="5.00" fill="#fff"/>
<rect x="721.20" y="490.10" width="1.70" height="6.60" fill="#000"/>
<rect x="727.40" y="490.50" width="2.60" height="6.00" fill="#000" rx="1"/>
<rect x="728.30" y="491.50" width="0.80" height="4.00" fill="#fff"/>
<rect x="725.50" y="491.90" width="2.10" height="3.20" fill="#000"/>
<rect x="721.20" y="499.40" width="1.70" height="6.30" fill="#000"/>
<rect x="725.20" y="395.00" width="0.90" height="111.70" fill="#000"/>
<rect x="713.00" y="395.00" width="2.00" height="2.00" fill="#000"/>
<rect x="717.50" y="395.00" width="2.00" height="2.00" fill="#000"/>
<rect x="713.00" y="504.70" width="2.00" height="2.00" fill="#000"/>
<rect x="717.50" y="504.70" width="2.00" height="2.00" fill="#000"/>
<rect x="749.00" y="435.00" width="30.00" height="38.00" fill="#000"/>
<rect x="773.20" y="429.30" width="5.80" height="49.00" fill="#000"/>
<rect x="746.00" y="442.20" width="3.20" height="23.40" fill="#000"/>
<rect x="742.00" y="443.80" width="4.50" height="8.80" fill="#000"/>
<rect x="743.00" y="444.80" width="3.00" height="6.80" fill="#fff"/>
<rect x="742.00" y="455.40" width="4.50" height="8.20" fill="#000"/>
<rect x="743.00" y="456.40" width="3.00" height="6.20" fill="#fff"/>
<rect x="421.00" y="398.00" width="278.10" height="15.80" fill="#000"/>
<rect x="422.00" y="399.10" width="276.10" height="13.60" fill="#fff"/>
<rect x="421.00" y="400.90" width="8.80" height="1.10" fill="#000"/>
<rect x="421.00" y="406.90" width="8.80" height="1.10" fill="#000"/>
<rect x="428.90" y="398.00" width="0.90" height="15.80" fill="#000"/>
<rect x="431.10" y="399.10" width="1.80" height="13.60" fill="#000"/>
<rect x="429.80" y="401.20" width="1.30" height="0.80" fill="#000"/>
<rect x="433.10" y="400.00" width="9.80" height="8.90" fill="#000"/>
<rect x="434.20" y="401.10" width="7.80" height="4.80" fill="#fff"/>
<rect x="434.20" y="405.90" width="0.90" height="1.90" fill="#fff"/>
<rect x="441.00" y="405.90" width="1.00" height="1.90" fill="#fff"/>
<rect x="435.10" y="407.10" width="4.90" height="5.10" fill="#fff"/>
<rect x="440.00" y="407.00" width="1.10" height="5.70" fill="#000"/>
<rect x="435.10" y="406.00" width="0.90" height="2.90" fill="#000"/>
<rect x="690.30" y="400.90" width="8.80" height="1.10" fill="#000"/>
<rect x="690.30" y="406.90" width="8.80" height="1.10" fill="#000"/>
<rect x="690.30" y="398.00" width="0.90" height="15.80" fill="#000"/>
<rect x="687.20" y="399.10" width="1.80" height="13.60" fill="#000"/>
<rect x="689.00" y="401.20" width="1.30" height="0.80" fill="#000"/>
<rect x="677.20" y="400.00" width="9.80" height="8.90" fill="#000"/>
<rect x="678.10" y="401.10" width="7.80" height="4.80" fill="#fff"/>
<rect x="685.00" y="405.90" width="0.90" height="1.90" fill="#fff"/>
<rect x="678.10" y="405.90" width="1.00" height="1.90" fill="#fff"/>
<rect x="680.10" y="407.10" width="4.90" height="5.10" fill="#fff"/>
<rect x="679.00" y="407.00" width="1.10" height="5.70" fill="#000"/>
<rect x="684.10" y="406.00" width="0.90" height="2.90" fill="#000"/>
<rect x="444.20" y="400.20" width="86.80" height="10.60" fill="#000"/>
<rect x="445.10" y="401.10" width="1.00" height="4.90" fill="#fff"/>
<rect x="447.30" y="401.10" width="1.00" height="4.90" fill="#fff"/>
<rect x="449.50" y="401.10" width="1.00" height="4.90" fill="#fff"/>
<rect x="451.70" y="401.10" width="1.00" height="4.90" fill="#fff"/>
<rect x="453.90" y="401.10" width="1.00" height="4.90" fill="#fff"/>
<rect x="456.10" y="401.10" width="1.00" height="4.90" fill="#fff"/>
<rect x="458.30" y="401.10" width="1.00" height="4.90" fill="#fff"/>
<rect x="460.50" y="401.10" width="1.00" height="4.90" fill="#fff"/>
<rect x="462.70" y="401.10" width="1.00" height="4.90" fill="#fff"/>
<rect x="464.90" y="401.10" width="1.00" height="4.90" fill="#fff"/>
<rect x="467.10" y="401.10" width="1.00" height="4.90" fill="#fff"/>
<rect x="469.30" y="401.10" width="1.00" height="4.90" fill="#fff"/>
<rect x="471.50" y="401.10" width="1.00" height="4.90" fill="#fff"/>
<rect x="473.70" y="401.10" width="1.00" height="4.90" fill="#fff"/>
<rect x="475.90" y="401.10" width="1.00" height="4.90" fill="#fff"/>
<rect x="478.10" y="401.10" width="1.00" height="4.90" fill="#fff"/>
<rect x="480.30" y="401.10" width="1.00" height="4.90" fill="#fff"/>
<rect x="482.50" y="401.10" width="1.00" height="4.90" fill="#fff"/>
<rect x="484.70" y="401.10" width="1.00" height="4.90" fill="#fff"/>
<rect x="486.90" y="401.10" width="1.00" height="4.90" fill="#fff"/>
<rect x="489.10" y="401.10" width="1.00" height="4.90" fill="#fff"/>
<rect x="491.30" y="401.10" width="1.00" height="4.90" fill="#fff"/>
<rect x="493.50" y="401.10" width="1.00" height="4.90" fill="#fff"/>
<rect x="495.70" y="401.10" width="1.00" height="4.90" fill="#fff"/>
<rect x="497.90" y="401.10" width="1.00" height="4.90" fill="#fff"/>
<rect x="500.10" y="401.10" width="1.00" height="4.90" fill="#fff"/>
<rect x="502.30" y="401.10" width="1.00" height="4.90" fill="#fff"/>
<rect x="504.50" y="401.10" width="1.00" height="4.90" fill="#fff"/>
<rect x="506.70" y="401.10" width="1.00" height="4.90" fill="#fff"/>
<rect x="508.90" y="401.10" width="1.00" height="4.90" fill="#fff"/>
<rect x="511.10" y="401.10" width="1.00" height="4.90" fill="#fff"/>
<rect x="513.30" y="401.10" width="1.00" height="4.90" fill="#fff"/>
<rect x="515.50" y="401.10" width="1.00" height="4.90" fill="#fff"/>
<rect x="517.70" y="401.10" width="1.00" height="4.90" fill="#fff"/>
<rect x="519.90" y="401.10" width="1.00" height="4.90" fill="#fff"/>
<rect x="522.10" y="401.10" width="1.00" height="4.90" fill="#fff"/>
<rect x="524.30" y="401.10" width="1.00" height="4.90" fill="#fff"/>
<rect x="526.50" y="401.10" width="1.00" height="4.90" fill="#fff"/>
<rect x="528.70" y="401.10" width="1.00" height="4.90" fill="#fff"/>
<rect x="590.00" y="400.20" width="85.90" height="10.60" fill="#000"/>
<rect x="590.90" y="401.10" width="1.00" height="4.90" fill="#fff"/>
<rect x="593.10" y="401.10" width="1.00" height="4.90" fill="#fff"/>
<rect x="595.30" y="401.10" width="1.00" height="4.90" fill="#fff"/>
<rect x="597.50" y="401.10" width="1.00" height="4.90" fill="#fff"/>
<rect x="599.70" y="401.10" width="1.00" height="4.90" fill="#fff"/>
<rect x="601.90" y="401.10" width="1.00" height="4.90" fill="#fff"/>
<rect x="604.10" y="401.10" width="1.00" height="4.90" fill="#fff"/>
<rect x="606.30" y="401.10" width="1.00" height="4.90" fill="#fff"/>
<rect x="608.50" y="401.10" width="1.00" height="4.90" fill="#fff"/>
<rect x="610.70" y="401.10" width="1.00" height="4.90" fill="#fff"/>
<rect x="612.90" y="401.10" width="1.00" height="4.90" fill="#fff"/>
<rect x="615.10" y="401.10" width="1.00" height="4.90" fill="#fff"/>
<rect x="617.30" y="401.10" width="1.00" height="4.90" fill="#fff"/>
<rect x="619.50" y="401.10" width="1.00" height="4.90" fill="#fff"/>
<rect x="621.70" y="401.10" width="1.00" height="4.90" fill="#fff"/>
<rect x="623.90" y="401.10" width="1.00" height="4.90" fill="#fff"/>
<rect x="626.10" y="401.10" width="1.00" height="4.90" fill="#fff"/>
<rect x="628.30" y="401.10" width="1.00" height="4.90" fill="#fff"/>
<rect x="630.50" y="401.10" width="1.00" height="4.90" fill="#fff"/>
<rect x="632.70" y="401.10" width="1.00" height="4.90" fill="#fff"/>
<rect x="634.90" y="401.10" width="1.00" height="4.90" fill="#fff"/>
<rect x="637.10" y="401.10" width="1.00" height="4.90" fill="#fff"/>
<rect x="639.30" y="401.10" width="1.00" height="4.90" fill="#fff"/>
<rect x="641.50" y="401.10" width="1.00" height="4.90" fill="#fff"/>
<rect x="643.70" y="401.10" width="1.00" height="4.90" fill="#fff"/>
<rect x="645.90" y="401.10" width="1.00" height="4.90" fill="#fff"/>
<rect x="648.10" y="401.10" width="1.00" height="4.90" fill="#fff"/>
<rect x="650.30" y="401.10" width="1.00" height="4.90" fill="#fff"/>
<rect x="652.50" y="401.10" width="1.00" height="4.90" fill="#fff"/>
<rect x="654.70" y="401.10" width="1.00" height="4.90" fill="#fff"/>
<rect x="656.90" y="401.10" width="1.00" height="4.90" fill="#fff"/>
<rect x="659.10" y="401.10" width="1.00" height="4.90" fill="#fff"/>
<rect x="661.30" y="401.10" width="1.00" height="4.90" fill="#fff"/>
<rect x="663.50" y="401.10" width="1.00" height="4.90" fill="#fff"/>
<rect x="665.70" y="401.10" width="1.00" height="4.90" fill="#fff"/>
<rect x="667.90" y="401.10" width="1.00" height="4.90" fill="#fff"/>
<rect x="670.10" y="401.10" width="1.00" height="4.90" fill="#fff"/>
<rect x="672.30" y="401.10" width="1.00" height="4.90" fill="#fff"/>
<rect x="674.50" y="401.10" width="1.00" height="4.90" fill="#fff"/>
<rect x="421.00" y="424.40" width="278.10" height="15.80" fill="#000"/>
<rect x="422.00" y="425.50" width="276.10" height="13.60" fill="#fff"/>
<rect x="421.00" y="427.30" width="8.80" height="1.10" fill="#000"/>
<rect x="421.00" y="433.30" width="8.80" height="1.10" fill="#000"/>
<rect x="428.90" y="424.40" width="0.90" height="15.80" fill="#000"/>
<rect x="431.10" y="425.50" width="1.80" height="13.60" fill="#000"/>
<rect x="429.80" y="427.60" width="1.30" height="0.80" fill="#000"/>
<rect x="433.10" y="426.40" width="9.80" height="8.90" fill="#000"/>
<rect x="434.20" y="427.50" width="7.80" height="4.80" fill="#fff"/>
<rect x="434.20" y="432.30" width="0.90" height="1.90" fill="#fff"/>
<rect x="441.00" y="432.30" width="1.00" height="1.90" fill="#fff"/>
<rect x="435.10" y="433.50" width="4.90" height="5.10" fill="#fff"/>
<rect x="440.00" y="433.40" width="1.10" height="5.70" fill="#000"/>
<rect x="435.10" y="432.40" width="0.90" height="2.90" fill="#000"/>
<rect x="690.30" y="427.30" width="8.80" height="1.10" fill="#000"/>
<rect x="690.30" y="433.30" width="8.80" height="1.10" fill="#000"/>
<rect x="690.30" y="424.40" width="0.90" height="15.80" fill="#000"/>
<rect x="687.20" y="425.50" width="1.80" height="13.60" fill="#000"/>
<rect x="689.00" y="427.60" width="1.30" height="0.80" fill="#000"/>
<rect x="677.20" y="426.40" width="9.80" height="8.90" fill="#000"/>
<rect x="678.10" y="427.50" width="7.80" height="4.80" fill="#fff"/>
<rect x="685.00" y="432.30" width="0.90" height="1.90" fill="#fff"/>
<rect x="678.10" y="432.30" width="1.00" height="1.90" fill="#fff"/>
<rect x="680.10" y="433.50" width="4.90" height="5.10" fill="#fff"/>
<rect x="679.00" y="433.40" width="1.10" height="5.70" fill="#000"/>
<rect x="684.10" y="432.40" width="0.90" height="2.90" fill="#000"/>
<rect x="444.20" y="426.60" width="86.80" height="10.60" fill="#000"/>
<rect x="445.10" y="427.50" width="1.00" height="4.90" fill="#fff"/>
<rect x="447.30" y="427.50" width="1.00" height="4.90" fill="#fff"/>
<rect x="449.50" y="427.50" width="1.00" height="4.90" fill="#fff"/>
<rect x="451.70" y="427.50" width="1.00" height="4.90" fill="#fff"/>
<rect x="453.90" y="427.50" width="1.00" height="4.90" fill="#fff"/>
<rect x="456.10" y="427.50" width="1.00" height="4.90" fill="#fff"/>
<rect x="458.30" y="427.50" width="1.00" height="4.90" fill="#fff"/>
<rect x="460.50" y="427.50" width="1.00" height="4.90" fill="#fff"/>
<rect x="462.70" y="427.50" width="1.00" height="4.90" fill="#fff"/>
<rect x="464.90" y="427.50" width="1.00" height="4.90" fill="#fff"/>
<rect x="467.10" y="427.50" width="1.00" height="4.90" fill="#fff"/>
<rect x="469.30" y="427.50" width="1.00" height="4.90" fill="#fff"/>
<rect x="471.50" y="427.50" width="1.00" height="4.90" fill="#fff"/>
<rect x="473.70" y="427.50" width="1.00" height="4.90" fill="#fff"/>
<rect x="475.90" y="427.50" width="1.00" height="4.90" fill="#fff"/>
<rect x="478.10" y="427.50" width="1.00" height="4.90" fill="#fff"/>
<rect x="480.30" y="427.50" width="1.00" height="4.90" fill="#fff"/>
<rect x="482.50" y="427.50" width="1.00" height="4.90" fill="#fff"/>
<rect x="484.70" y="427.50" width="1.00" height="4.90" fill="#fff"/>
<rect x="486.90" y="427.50" width="1.00" height="4.90" fill="#fff"/>
<rect x="489.10" y="427.50" width="1.00" height="4.90" fill="#fff"/>
<rect x="491.30" y="427.50" width="1.00" height="4.90" fill="#fff"/>
<rect x="493.50" y="427.50" width="1.00" height="4.90" fill="#fff"/>
<rect x="495.70" y="427.50" width="1.00" height="4.90" fill="#fff"/>
<rect x="497.90" y="427.50" width="1.00" height="4.90" fill="#fff"/>
<rect x="500.10" y="427.50" width="1.00" height="4.90" fill="#fff"/>
<rect x="502.30" y="427.50" width="1.00" height="4.90" fill="#fff"/>
<rect x="504.50" y="427.50" width="1.00" height="4.90" fill="#fff"/>
<rect x="506.70" y="427.50" width="1.00" height="4.90" fill="#fff"/>
<rect x="508.90" y="427.50" width="1.00" height="4.90" fill="#fff"/>
<rect x="511.10" y="427.50" width="1.00" height="4.90" fill="#fff"/>
<rect x="513.30" y="427.50" width="1.00" height="4.90" fill="#fff"/>
<rect x="515.50" y="427.50" width="1.00" height="4.90" fill="#fff"/>
<rect x="517.70" y="427.50" width="1.00" height="4.90" fill="#fff"/>
<rect x="519.90" y="427.50" width="1.00" height="4.90" fill="#fff"/>
<rect x="522.10" y="427.50" width="1.00" height="4.90" fill="#fff"/>
<rect x="524.30" y="427.50" width="1.00" height="4.90" fill="#fff"/>
<rect x="526.50" y="427.50" width="1.00" height="4.90" fill="#fff"/>
<rect x="528.70" y="427.50" width="1.00" height="4.90" fill="#fff"/>
<rect x="590.00" y="426.60" width="85.90" height="10.60" fill="#000"/>
<rect x="590.90" y="427.50" width="1.00" height="4.90" fill="#fff"/>
<rect x="593.10" y="427.50" width="1.00" height="4.90" fill="#fff"/>
<rect x="595.30" y="427.50" width="1.00" height="4.90" fill="#fff"/>
<rect x="597.50" y="427.50" width="1.00" height="4.90" fill="#fff"/>
<rect x="599.70" y="427.50" width="1.00" height="4.90" fill="#fff"/>
<rect x="601.90" y="427.50" width="1.00" height="4.90" fill="#fff"/>
<rect x="604.10" y="427.50" width="1.00" height="4.90" fill="#fff"/>
<rect x="606.30" y="427.50" width="1.00" height="4.90" fill="#fff"/>
<rect x="608.50" y="427.50" width="1.00" height="4.90" fill="#fff"/>
<rect x="610.70" y="427.50" width="1.00" height="4.90" fill="#fff"/>
<rect x="612.90" y="427.50" width="1.00" height="4.90" fill="#fff"/>
<rect x="615.10" y="427.50" width="1.00" height="4.90" fill="#fff"/>
<rect x="617.30" y="427.50" width="1.00" height="4.90" fill="#fff"/>
<rect x="619.50" y="427.50" width="1.00" height="4.90" fill="#fff"/>
<rect x="621.70" y="427.50" width="1.00" height="4.90" fill="#fff"/>
<rect x="623.90" y="427.50" width="1.00" height="4.90" fill="#fff"/>
<rect x="626.10" y="427.50" width="1.00" height="4.90" fill="#fff"/>
<rect x="628.30" y="427.50" width="1.00" height="4.90" fill="#fff"/>
<rect x="630.50" y="427.50" width="1.00" height="4.90" fill="#fff"/>
<rect x="632.70" y="427.50" width="1.00" height="4.90" fill="#fff"/>
<rect x="634.90" y="427.50" width="1.00" height="4.90" fill="#fff"/>
<rect x="637.10" y="427.50" width="1.00" height="4.90" fill="#fff"/>
<rect x="639.30" y="427.50" width="1.00" height="4.90" fill="#fff"/>
<rect x="641.50" y="427.50" width="1.00" height="4.90" fill="#fff"/>
<rect x="643.70" y="427.50" width="1.00" height="4.90" fill="#fff"/>
<rect x="645.90" y="427.50" width="1.00" height="4.90" fill="#fff"/>
<rect x="648.10" y="427.50" width="1.00" height="4.90" fill="#fff"/>
<rect x="650.30" y="427.50" width="1.00" height="4.90" fill="#fff"/>
<rect x="652.50" y="427.50" width="1.00" height="4.90" fill="#fff"/>
<rect x="654.70" y="427.50" width="1.00" height="4.90" fill="#fff"/>
<rect x="656.90" y="427.50" width="1.00" height="4.90" fill="#fff"/>
<rect x="659.10" y="427.50" width="1.00" height="4.90" fill="#fff"/>
<rect x="661.30" y="427.50" width="1.00" height="4.90" fill="#fff"/>
<rect x="663.50" y="427.50" width="1.00" height="4.90" fill="#fff"/>
<rect x="665.70" y="427.50" width="1.00" height="4.90" fill="#fff"/>
<rect x="667.90" y="427.50" width="1.00" height="4.90" fill="#fff"/>
<rect x="670.10" y="427.50" width="1.00" height="4.90" fill="#fff"/>
<rect x="672.30" y="427.50" width="1.00" height="4.90" fill="#fff"/>
<rect x="674.50" y="427.50" width="1.00" height="4.90" fill="#fff"/>
<rect x="421.00" y="450.80" width="278.10" height="15.80" fill="#000"/>
<rect x="422.00" y="451.90" width="276.10" height="13.60" fill="#fff"/>
<rect x="421.00" y="453.70" width="8.80" height="1.10" fill="#000"/>
<rect x="421.00" y="459.70" width="8.80" height="1.10" fill="#000"/>
<rect x="428.90" y="450.80" width="0.90" height="15.80" fill="#000"/>
<rect x="431.10" y="451.90" width="1.80" height="13.60" fill="#000"/>
<rect x="429.80" y="454.00" width="1.30" height="0.80" fill="#000"/>
<rect x="433.10" y="452.80" width="9.80" height="8.90" fill="#000"/>
<rect x="434.20" y="453.90" width="7.80" height="4.80" fill="#fff"/>
<rect x="434.20" y="458.70" width="0.90" height="1.90" fill="#fff"/>
<rect x="441.00" y="458.70" width="1.00" height="1.90" fill="#fff"/>
<rect x="435.10" y="459.90" width="4.90" height="5.10" fill="#fff"/>
<rect x="440.00" y="459.80" width="1.10" height="5.70" fill="#000"/>
<rect x="435.10" y="458.80" width="0.90" height="2.90" fill="#000"/>
<rect x="690.30" y="453.70" width="8.80" height="1.10" fill="#000"/>
<rect x="690.30" y="459.70" width="8.80" height="1.10" fill="#000"/>
<rect x="690.30" y="450.80" width="0.90" height="15.80" fill="#000"/>
<rect x="687.20" y="451.90" width="1.80" height="13.60" fill="#000"/>
<rect x="689.00" y="454.00" width="1.30" height="0.80" fill="#000"/>
<rect x="677.20" y="452.80" width="9.80" height="8.90" fill="#000"/>
<rect x="678.10" y="453.90" width="7.80" height="4.80" fill="#fff"/>
<rect x="685.00" y="458.70" width="0.90" height="1.90" fill="#fff"/>
<rect x="678.10" y="458.70" width="1.00" height="1.90" fill="#fff"/>
<rect x="680.10" y="459.90" width="4.90" height="5.10" fill="#fff"/>
<rect x="679.00" y="459.80" width="1.10" height="5.70" fill="#000"/>
<rect x="684.10" y="458.80" width="0.90" height="2.90" fill="#000"/>
<rect x="444.20" y="453.00" width="86.80" height="10.60" fill="#000"/>
<rect x="445.10" y="453.90" width="1.00" height="4.90" fill="#fff"/>
<rect x="447.30" y="453.90" width="1.00" height="4.90" fill="#fff"/>
<rect x="449.50" y="453.90" width="1.00" height="4.90" fill="#fff"/>
<rect x="451.70" y="453.90" width="1.00" height="4.90" fill="#fff"/>
<rect x="453.90" y="453.90" width="1.00" height="4.90" fill="#fff"/>
<rect x="456.10" y="453.90" width="1.00" height="4.90" fill="#fff"/>
<rect x="458.30" y="453.90" width="1.00" height="4.90" fill="#fff"/>
<rect x="460.50" y="453.90" width="1.00" height="4.90" fill="#fff"/>
<rect x="462.70" y="453.90" width="1.00" height="4.90" fill="#fff"/>
<rect x="464.90" y="453.90" width="1.00" height="4.90" fill="#fff"/>
<rect x="467.10" y="453.90" width="1.00" height="4.90" fill="#fff"/>
<rect x="469.30" y="453.90" width="1.00" height="4.90" fill="#fff"/>
<rect x="471.50" y="453.90" width="1.00" height="4.90" fill="#fff"/>
<rect x="473.70" y="453.90" width="1.00" height="4.90" fill="#fff"/>
<rect x="475.90" y="453.90" width="1.00" height="4.90" fill="#fff"/>
<rect x="478.10" y="453.90" width="1.00" height="4.90" fill="#fff"/>
<rect x="480.30" y="453.90" width="1.00" height="4.90" fill="#fff"/>
<rect x="482.50" y="453.90" width="1.00" height="4.90" fill="#fff"/>
<rect x="484.70" y="453.90" width="1.00" height="4.90" fill="#fff"/>
<rect x="486.90" y="453.90" width="1.00" height="4.90" fill="#fff"/>
<rect x="489.10" y="453.90" width="1.00" height="4.90" fill="#fff"/>
<rect x="491.30" y="453.90" width="1.00" height="4.90" fill="#fff"/>
<rect x="493.50" y="453.90" width="1.00" height="4.90" fill="#fff"/>
<rect x="495.70" y="453.90" width="1.00" height="4.90" fill="#fff"/>
<rect x="497.90" y="453.90" width="1.00" height="4.90" fill="#fff"/>
<rect x="500.10" y="453.90" width="1.00" height="4.90" fill="#fff"/>
<rect x="502.30" y="453.90" width="1.00" height="4.90" fill="#fff"/>
<rect x="504.50" y="453.90" width="1.00" height="4.90" fill="#fff"/>
<rect x="506.70" y="453.90" width="1.00" height="4.90" fill="#fff"/>
<rect x="508.90" y="453.90" width="1.00" height="4.90" fill="#fff"/>
<rect x="511.10" y="453.90" width="1.00" height="4.90" fill="#fff"/>
<rect x="513.30" y="453.90" width="1.00" height="4.90" fill="#fff"/>
<rect x="515.50" y="453.90" width="1.00" height="4.90" fill="#fff"/>
<rect x="517.70" y="453.90" width="1.00" height="4.90" fill="#fff"/>
<rect x="519.90" y="453.90" width="1.00" height="4.90" fill="#fff"/>
<rect x="522.10" y="453.90" width="1.00" height="4.90" fill="#fff"/>
<rect x="524.30" y="453.90" width="1.00" height="4.90" fill="#fff"/>
<rect x="526.50" y="453.90" width="1.00" height="4.90" fill="#fff"/>
<rect x="528.70" y="453.90" width="1.00" height="4.90" fill="#fff"/>
<rect x="590.00" y="453.00" width="85.90" height="10.60" fill="#000"/>
<rect x="590.90" y="453.90" width="1.00" height="4.90" fill="#fff"/>
<rect x="593.10" y="453.90" width="1.00" height="4.90" fill="#fff"/>
<rect x="595.30" y="453.90" width="1.00" height="4.90" fill="#fff"/>
<rect x="597.50" y="453.90" width="1.00" height="4.90" fill="#fff"/>
<rect x="599.70" y="453.90" width="1.00" height="4.90" fill="#fff"/>
<rect x="601.90" y="453.90" width="1.00" height="4.90" fill="#fff"/>
<rect x="604.10" y="453.90" width="1.00" height="4.90" fill="#fff"/>
<rect x="606.30" y="453.90" width="1.00" height="4.90" fill="#fff"/>
<rect x="608.50" y="453.90" width="1.00" height="4.90" fill="#fff"/>
<rect x="610.70" y="453.90" width="1.00" height="4.90" fill="#fff"/>
<rect x="612.90" y="453.90" width="1.00" height="4.90" fill="#fff"/>
<rect x="615.10" y="453.90" width="1.00" height="4.90" fill="#fff"/>
<rect x="617.30" y="453.90" width="1.00" height="4.90" fill="#fff"/>
<rect x="619.50" y="453.90" width="1.00" height="4.90" fill="#fff"/>
<rect x="621.70" y="453.90" width="1.00" height="4.90" fill="#fff"/>
<rect x="623.90" y="453.90" width="1.00" height="4.90" fill="#fff"/>
<rect x="626.10" y="453.90" width="1.00" height="4.90" fill="#fff"/>
<rect x="628.30" y="453.90" width="1.00" height="4.90" fill="#fff"/>
<rect x="630.50" y="453.90" width="1.00" height="4.90" fill="#fff"/>
<rect x="632.70" y="453.90" width="1.00" height="4.90" fill="#fff"/>
<rect x="634.90" y="453.90" width="1.00" height="4.90" fill="#fff"/>
<rect x="637.10" y="453.90" width="1.00" height="4.90" fill="#fff"/>
<rect x="639.30" y="453.90" width="1.00" height="4.90" fill="#fff"/>
<rect x="641.50" y="453.90" width="1.00" height="4.90" fill="#fff"/>
<rect x="643.70" y="453.90" width="1.00" height="4.90" fill="#fff"/>
<rect x="645.90" y="453.90" width="1.00" height="4.90" fill="#fff"/>
<rect x="648.10" y="453.90" width="1.00" height="4.90" fill="#fff"/>
<rect x="650.30" y="453.90" width="1.00" height="4.90" fill="#fff"/>
<rect x="652.50" y="453.90" width="1.00" height="4.90" fill="#fff"/>
<rect x="654.70" y="453.90" width="1.00" height="4.90" fill="#fff"/>
<rect x="656.90" y="453.90" width="1.00" height="4.90" fill="#fff"/>
<rect x="659.10" y="453.90" width="1.00" height="4.90" fill="#fff"/>
<rect x="661.30" y="453.90" width="1.00" height="4.90" fill="#fff"/>
<rect x="663.50" y="453.90" width="1.00" height="4.90" fill="#fff"/>
<rect x="665.70" y="453.90" width="1.00" height="4.90" fill="#fff"/>
<rect x="667.90" y="453.90" width="1.00" height="4.90" fill="#fff"/>
<rect x="670.10" y="453.90" width="1.00" height="4.90" fill="#fff"/>
<rect x="672.30" y="453.90" width="1.00" height="4.90" fill="#fff"/>
<rect x="674.50" y="453.90" width="1.00" height="4.90" fill="#fff"/>
<rect x="421.00" y="477.20" width="278.10" height="15.80" fill="#000"/>
<rect x="422.00" y="478.30" width="276.10" height="13.60" fill="#fff"/>
<rect x="421.00" y="480.10" width="8.80" height="1.10" fill="#000"/>
<rect x="421.00" y="486.10" width="8.80" height="1.10" fill="#000"/>
<rect x="428.90" y="477.20" width="0.90" height="15.80" fill="#000"/>
<rect x="431.10" y="478.30" width="1.80" height="13.60" fill="#000"/>
<rect x="429.80" y="480.40" width="1.30" height="0.80" fill="#000"/>
<rect x="433.10" y="479.20" width="9.80" height="8.90" fill="#000"/>
<rect x="434.20" y="480.30" width="7.80" height="4.80" fill="#fff"/>
<rect x="434.20" y="485.10" width="0.90" height="1.90" fill="#fff"/>
<rect x="441.00" y="485.10" width="1.00" height="1.90" fill="#fff"/>
<rect x="435.10" y="486.30" width="4.90" height="5.10" fill="#fff"/>
<rect x="440.00" y="486.20" width="1.10" height="5.70" fill="#000"/>
<rect x="435.10" y="485.20" width="0.90" height="2.90" fill="#000"/>
<rect x="690.30" y="480.10" width="8.80" height="1.10" fill="#000"/>
<rect x="690.30" y="486.10" width="8.80" height="1.10" fill="#000"/>
<rect x="690.30" y="477.20" width="0.90" height="15.80" fill="#000"/>
<rect x="687.20" y="478.30" width="1.80" height="13.60" fill="#000"/>
<rect x="689.00" y="480.40" width="1.30" height="0.80" fill="#000"/>
<rect x="677.20" y="479.20" width="9.80" height="8.90" fill="#000"/>
<rect x="678.10" y="480.30" width="7.80" height="4.80" fill="#fff"/>
<rect x="685.00" y="485.10" width="0.90" height="1.90" fill="#fff"/>
<rect x="678.10" y="485.10" width="1.00" height="1.90" fill="#fff"/>
<rect x="680.10" y="486.30" width="4.90" height="5.10" fill="#fff"/>
<rect x="679.00" y="486.20" width="1.10" height="5.70" fill="#000"/>
<rect x="684.10" y="485.20" width="0.90" height="2.90" fill="#000"/>
<rect x="444.20" y="479.40" width="86.80" height="10.60" fill="#000"/>
<rect x="445.10" y="480.30" width="1.00" height="4.90" fill="#fff"/>
<rect x="447.30" y="480.30" width="1.00" height="4.90" fill="#fff"/>
<rect x="449.50" y="480.30" width="1.00" height="4.90" fill="#fff"/>
<rect x="451.70" y="480.30" width="1.00" height="4.90" fill="#fff"/>
<rect x="453.90" y="480.30" width="1.00" height="4.90" fill="#fff"/>
<rect x="456.10" y="480.30" width="1.00" height="4.90" fill="#fff"/>
<rect x="458.30" y="480.30" width="1.00" height="4.90" fill="#fff"/>
<rect x="460.50" y="480.30" width="1.00" height="4.90" fill="#fff"/>
<rect x="462.70" y="480.30" width="1.00" height="4.90" fill="#fff"/>
<rect x="464.90" y="480.30" width="1.00" height="4.90" fill="#fff"/>
<rect x="467.10" y="480.30" width="1.00" height="4.90" fill="#fff"/>
<rect x="469.30" y="480.30" width="1.00" height="4.90" fill="#fff"/>
<rect x="471.50" y="480.30" width="1.00" height="4.90" fill="#fff"/>
<rect x="473.70" y="480.30" width="1.00" height="4.90" fill="#fff"/>
<rect x="475.90" y="480.30" width="1.00" height="4.90" fill="#fff"/>
<rect x="478.10" y="480.30" width="1.00" height="4.90" fill="#fff"/>
<rect x="480.30" y="480.30" width="1.00" height="4.90" fill="#fff"/>
<rect x="482.50" y="480.30" width="1.00" height="4.90" fill="#fff"/>
<rect x="484.70" y="480.30" width="1.00" height="4.90" fill="#fff"/>
<rect x="486.90" y="480.30" width="1.00" height="4.90" fill="#fff"/>
<rect x="489.10" y="480.30" width="1.00" height="4.90" fill="#fff"/>
<rect x="491.30" y="480.30" width="1.00" height="4.90" fill="#fff"/>
<rect x="493.50" y="480.30" width="1.00" height="4.90" fill="#fff"/>
<rect x="495.70" y="480.30" width="1.00" height="4.90" fill="#fff"/>
<rect x="497.90" y="480.30" width="1.00" height="4.90" fill="#fff"/>
<rect x="500.10" y="480.30" width="1.00" height="4.90" fill="#fff"/>
<rect x="502.30" y="480.30" width="1.00" height="4.90" fill="#fff"/>
<rect x="504.50" y="480.30" width="1.00" height="4.90" fill="#fff"/>
<rect x="506.70" y="480.30" width="1.00" height="4.90" fill="#fff"/>
<rect x="508.90" y="480.30" width="1.00" height="4.90" fill="#fff"/>
<rect x="511.10" y="480.30" width="1.00" height="4.90" fill="#fff"/>
<rect x="513.30" y="480.30" width="1.00" height="4.90" fill="#fff"/>
<rect x="515.50" y="480.30" width="1.00" height="4.90" fill="#fff"/>
<rect x="517.70" y="480.30" width="1.00" height="4.90" fill="#fff"/>
<rect x="519.90" y="480.30" width="1.00" height="4.90" fill="#fff"/>
<rect x="522.10" y="480.30" width="1.00" height="4.90" fill="#fff"/>
<rect x="524.30" y="480.30" width="1.00" height="4.90" fill="#fff"/>
<rect x="526.50" y="480.30" width="1.00" height="4.90" fill="#fff"/>
<rect x="528.70" y="480.30" width="1.00" height="4.90" fill="#fff"/>
<rect x="590.00" y="479.40" width="85.90" height="10.60" fill="#000"/>
<rect x="590.90" y="480.30" width="1.00" height="4.90" fill="#fff"/>
<rect x="593.10" y="480.30" width="1.00" height="4.90" fill="#fff"/>
<rect x="595.30" y="480.30" width="1.00" height="4.90" fill="#fff"/>
<rect x="597.50" y="480.30" width="1.00" height="4.90" fill="#fff"/>
<rect x="599.70" y="480.30" width="1.00" height="4.90" fill="#fff"/>
<rect x="601.90" y="480.30" width="1.00" height="4.90" fill="#fff"/>
<rect x="604.10" y="480.30" width="1.00" height="4.90" fill="#fff"/>
<rect x="606.30" y="480.30" width="1.00" height="4.90" fill="#fff"/>
<rect x="608.50" y="480.30" width="1.00" height="4.90" fill="#fff"/>
<rect x="610.70" y="480.30" width="1.00" height="4.90" fill="#fff"/>
<rect x="612.90" y="480.30" width="1.00" height="4.90" fill="#fff"/>
<rect x="615.10" y="480.30" width="1.00" height="4.90" fill="#fff"/>
<rect x="617.30" y="480.30" width="1.00" height="4.90" fill="#fff"/>
<rect x="619.50" y="480.30" width="1.00" height="4.90" fill="#fff"/>
<rect x="621.70" y="480.30" width="1.00" height="4.90" fill="#fff"/>
<rect x="623.90" y="480.30" width="1.00" height="4.90" fill="#fff"/>
<rect x="626.10" y="480.30" width="1.00" height="4.90" fill="#fff"/>
<rect x="628.30" y="480.30" width="1.00" height="4.90" fill="#fff"/>
<rect x="630.50" y="480.30" width="1.00" height="4.90" fill="#fff"/>
<rect x="632.70" y="480.30" width="1.00" height="4.90" fill="#fff"/>
<rect x="634.90" y="480.30" width="1.00" height="4.90" fill="#fff"/>
<rect x="637.10" y="480.30" width="1.00" height="4.90" fill="#fff"/>
<rect x="639.30" y="480.30" width="1.00" height="4.90" fill="#fff"/>
<rect x="641.50" y="480.30" width="1.00" height="4.90" fill="#fff"/>
<rect x="643.70" y="480.30" width="1.00" height="4.90" fill="#fff"/>
<rect x="645.90" y="480.30" width="1.00" height="4.90" fill="#fff"/>
<rect x="648.10" y="480.30" width="1.00" height="4.90" fill="#fff"/>
<rect x="650.30" y="480.30" width="1.00" height="4.90" fill="#fff"/>
<rect x="652.50" y="480.30" width="1.00" height="4.90" fill="#fff"/>
<rect x="654.70" y="480.30" width="1.00" height="4.90" fill="#fff"/>
<rect x="656.90" y="480.30" width="1.00" height="4.90" fill="#fff"/>
<rect x="659.10" y="480.30" width="1.00" height="4.90" fill="#fff"/>
<rect x="661.30" y="480.30" width="1.00" height="4.90" fill="#fff"/>
<rect x="663.50" y="480.30" width="1.00" height="4.90" fill="#fff"/>
<rect x="665.70" y="480.30" width="1.00" height="4.90" fill="#fff"/>
<rect x="667.90" y="480.30" width="1.00" height="4.90" fill="#fff"/>
<rect x="670.10" y="480.30" width="1.00" height="4.90" fill="#fff"/>
<rect x="672.30" y="480.30" width="1.00" height="4.90" fill="#fff"/>
<rect x="674.50" y="480.30" width="1.00" height="4.90" fill="#fff"/>
<rect x="55.00" y="28.00" width="18.00" height="13.80" fill="#000"/>
<rect x="56.00" y="29.10" width="4.00" height="1.00" fill="#fff"/>
<rect x="61.20" y="29.10" width="4.70" height="1.00" fill="#fff"/>
<rect x="67.00" y="29.10" width="5.00" height="1.00" fill="#fff"/>
<rect x="56.00" y="35.00" width="4.00" height="1.00" fill="#fff"/>
<rect x="61.20" y="35.00" width="4.70" height="1.00" fill="#fff"/>
<rect x="67.00" y="35.00" width="5.00" height="1.00" fill="#fff"/>
<rect x="56.00" y="39.90" width="4.00" height="1.00" fill="#fff"/>
<rect x="61.20" y="39.90" width="4.70" height="1.00" fill="#fff"/>
<rect x="67.00" y="39.90" width="5.00" height="1.00" fill="#fff"/>
<rect x="61.20" y="29.20" width="0.90" height="11.60" fill="#fff"/>
<rect x="68.10" y="72.10" width="6.90" height="13.80" fill="#000"/>
<rect x="69.10" y="73.20" width="0.90" height="11.70" fill="#fff"/>
<rect x="69.10" y="73.20" width="4.90" height="0.95" fill="#fff"/>
<rect x="69.10" y="78.70" width="4.90" height="0.95" fill="#fff"/>
<rect x="69.10" y="84.00" width="4.90" height="0.95" fill="#fff"/>
<rect x="52.90" y="119.80" width="6.00" height="30.90" fill="#000"/>
<rect x="58.80" y="125.00" width="6.20" height="25.70" fill="#000"/>
<rect x="54.10" y="125.85" width="3.90" height="0.90" fill="#fff"/>
<rect x="60.40" y="125.85" width="3.60" height="0.90" fill="#fff"/>
<rect x="54.10" y="132.05" width="3.90" height="0.90" fill="#fff"/>
<rect x="60.40" y="132.05" width="3.60" height="0.90" fill="#fff"/>
<rect x="54.10" y="137.35" width="3.90" height="1.50" fill="#fff"/>
<rect x="60.40" y="137.35" width="3.60" height="1.50" fill="#fff"/>
<rect x="54.10" y="143.05" width="3.90" height="1.30" fill="#fff"/>
<rect x="60.40" y="143.05" width="3.60" height="1.30" fill="#fff"/>
<rect x="54.10" y="148.95" width="3.90" height="0.90" fill="#fff"/>
<rect x="60.40" y="148.95" width="3.60" height="0.90" fill="#fff"/>
<rect x="59.30" y="125.90" width="0.90" height="23.90" fill="#fff"/>
<rect x="54.60" y="144.60" width="3.00" height="4.00" fill="#fff"/>
<rect x="55.50" y="145.60" width="1.20" height="2.00" fill="#000"/>
<rect x="61.00" y="144.60" width="2.20" height="4.00" fill="#fff"/>
<rect x="186.90" y="17.80" width="7.00" height="19.10" fill="#000"/>
<rect x="193.80" y="24.00" width="12.20" height="12.90" fill="#000"/>
<rect x="188.00" y="19.00" width="1.10" height="16.90" fill="#fff"/>
<rect x="188.00" y="19.00" width="5.00" height="1.10" fill="#fff"/>
<rect x="189.10" y="23.90" width="4.10" height="1.00" fill="#fff"/>
<rect x="189.10" y="29.90" width="4.10" height="1.00" fill="#fff"/>
<rect x="194.20" y="25.00" width="4.70" height="1.00" fill="#fff"/>
<rect x="200.10" y="25.00" width="4.90" height="1.00" fill="#fff"/>
<rect x="194.20" y="29.90" width="4.70" height="1.00" fill="#fff"/>
<rect x="200.10" y="29.90" width="4.90" height="1.00" fill="#fff"/>
<rect x="190.00" y="31.90" width="2.10" height="3.10" fill="#fff"/>
<rect x="253.10" y="150.80" width="11.70" height="13.30" fill="#000"/>
<rect x="254.00" y="157.20" width="4.50" height="1.00" fill="#fff"/>
<rect x="259.40" y="157.20" width="4.60" height="1.00" fill="#fff"/>
<rect x="254.00" y="161.50" width="4.50" height="1.00" fill="#fff"/>
<rect x="259.40" y="161.50" width="4.60" height="1.00" fill="#fff"/>
<rect x="279.80" y="244.90" width="14.40" height="6.00" fill="#000"/>
<rect x="281.80" y="246.00" width="2.20" height="3.80" fill="#fff"/>
<rect x="285.70" y="246.00" width="3.00" height="3.80" fill="#fff"/>
<rect x="290.50" y="246.00" width="1.80" height="3.80" fill="#fff"/>
<rect x="87.00" y="275.10" width="19.10" height="13.70" fill="#000"/>
<rect x="88.00" y="276.10" width="17.10" height="11.70" fill="#fff"/>
<rect x="88.90" y="277.00" width="4.10" height="4.20" fill="#000"/>
<rect x="94.50" y="277.00" width="4.10" height="4.20" fill="#000"/>
<rect x="100.10" y="277.00" width="4.10" height="4.20" fill="#000"/>
<rect x="88.90" y="282.70" width="4.10" height="4.20" fill="#000"/>
<rect x="94.50" y="282.70" width="4.10" height="4.20" fill="#000"/>
<rect x="100.10" y="282.70" width="4.10" height="4.20" fill="#000"/>
<rect x="101.10" y="283.70" width="2.10" height="2.20" fill="#fff"/>
<rect x="128.80" y="270.10" width="7.80" height="6.90" fill="#000"/>
<rect x="129.90" y="270.90" width="5.40" height="2.20" fill="#fff"/>
<rect x="128.80" y="276.60" width="23.90" height="19.00" fill="#000"/>
<rect x="152.60" y="283.00" width="18.60" height="12.60" fill="#000"/>
<rect x="140.30" y="276.60" width="1.10" height="0.80" fill="#fff"/>
<rect x="146.80" y="276.60" width="1.10" height="0.80" fill="#fff"/>
<rect x="129.90" y="276.90" width="5.40" height="0.90" fill="#fff"/>
<rect x="129.90" y="283.00" width="5.40" height="0.90" fill="#fff"/>
<rect x="129.90" y="288.90" width="5.40" height="0.90" fill="#fff"/>
<rect x="129.90" y="294.10" width="5.40" height="0.90" fill="#fff"/>
<rect x="136.20" y="283.00" width="3.50" height="0.90" fill="#fff"/>
<rect x="136.20" y="288.90" width="3.50" height="0.90" fill="#fff"/>
<rect x="136.20" y="294.10" width="3.50" height="0.90" fill="#fff"/>
<rect x="142.00" y="283.00" width="4.10" height="0.90" fill="#fff"/>
<rect x="142.00" y="288.90" width="4.10" height="0.90" fill="#fff"/>
<rect x="142.00" y="294.10" width="4.10" height="0.90" fill="#fff"/>
<rect x="148.30" y="283.00" width="3.70" height="0.90" fill="#fff"/>
<rect x="148.30" y="288.90" width="3.70" height="0.90" fill="#fff"/>
<rect x="148.30" y="294.10" width="3.70" height="0.90" fill="#fff"/>
<rect x="153.10" y="288.90" width="4.90" height="0.90" fill="#fff"/>
<rect x="153.10" y="294.10" width="4.90" height="0.90" fill="#fff"/>
<rect x="159.20" y="288.90" width="4.70" height="0.90" fill="#fff"/>
<rect x="159.20" y="294.10" width="4.70" height="0.90" fill="#fff"/>
<rect x="165.10" y="288.90" width="5.00" height="0.90" fill="#fff"/>
<rect x="165.10" y="294.10" width="5.00" height="0.90" fill="#fff"/>
<rect x="140.10" y="278.00" width="0.90" height="16.60" fill="#fff"/>
<rect x="146.90" y="278.00" width="0.90" height="16.60" fill="#fff"/>
<rect x="130.60" y="290.60" width="3.60" height="2.60" fill="#fff"/>
<rect x="131.80" y="291.40" width="1.20" height="1.00" fill="#000"/>
<rect x="136.70" y="290.60" width="2.70" height="2.60" fill="#fff"/>
<rect x="137.45" y="291.40" width="1.20" height="1.00" fill="#000"/>
<rect x="142.60" y="290.60" width="2.90" height="2.60" fill="#fff"/>
<rect x="143.45" y="291.40" width="1.20" height="1.00" fill="#000"/>
<rect x="148.70" y="290.60" width="2.70" height="2.60" fill="#fff"/>
<rect x="149.45" y="291.40" width="1.20" height="1.00" fill="#000"/>
<rect x="107.00" y="322.00" width="17.80" height="35.80" fill="#000"/>
<rect x="124.60" y="322.00" width="5.40" height="25.70" fill="#000"/>
<rect x="108.00" y="327.95" width="4.20" height="0.90" fill="#fff"/>
<rect x="114.60" y="327.95" width="3.20" height="0.90" fill="#fff"/>
<rect x="119.30" y="327.95" width="4.50" height="0.90" fill="#fff"/>
<rect x="108.00" y="333.95" width="4.20" height="0.90" fill="#fff"/>
<rect x="114.60" y="333.95" width="3.20" height="0.90" fill="#fff"/>
<rect x="119.30" y="333.95" width="4.50" height="0.90" fill="#fff"/>
<rect x="108.00" y="339.20" width="4.20" height="1.60" fill="#fff"/>
<rect x="114.60" y="339.20" width="3.20" height="1.60" fill="#fff"/>
<rect x="119.30" y="339.20" width="4.50" height="1.60" fill="#fff"/>
<rect x="108.00" y="344.95" width="4.20" height="0.90" fill="#fff"/>
<rect x="114.60" y="344.95" width="3.20" height="0.90" fill="#fff"/>
<rect x="119.30" y="344.95" width="4.50" height="0.90" fill="#fff"/>
<rect x="108.00" y="350.85" width="4.20" height="0.90" fill="#fff"/>
<rect x="114.60" y="350.85" width="3.20" height="0.90" fill="#fff"/>
<rect x="119.30" y="350.85" width="4.50" height="0.90" fill="#fff"/>
<rect x="113.00" y="323.00" width="0.90" height="33.60" fill="#fff"/>
<rect x="108.90" y="352.80" width="2.10" height="3.00" fill="#fff"/>
<rect x="115.00" y="352.80" width="2.20" height="3.00" fill="#fff"/>
<rect x="119.80" y="352.80" width="3.00" height="3.00" fill="#fff"/>
<rect x="125.20" y="323.05" width="3.90" height="0.90" fill="#fff"/>
<rect x="125.20" y="328.95" width="3.90" height="0.90" fill="#fff"/>
<rect x="125.20" y="334.20" width="3.90" height="1.60" fill="#fff"/>
<rect x="125.20" y="339.75" width="3.90" height="0.90" fill="#fff"/>
<rect x="125.20" y="345.95" width="3.90" height="0.90" fill="#fff"/>
<rect x="126.00" y="341.80" width="2.20" height="3.20" fill="#fff"/>
<rect x="106.90" y="506.10" width="19.10" height="6.60" fill="#000"/>
<rect x="111.50" y="507.20" width="1.60" height="4.40" fill="#fff"/>
<rect x="116.10" y="507.20" width="1.60" height="4.40" fill="#fff"/>
<rect x="120.80" y="507.20" width="3.90" height="4.40" fill="#fff"/>
<rect x="122.05" y="508.60" width="1.40" height="1.60" fill="#000"/>
<rect x="132.00" y="506.10" width="18.90" height="6.60" fill="#000"/>
<rect x="143.40" y="507.20" width="1.60" height="4.40" fill="#fff"/>
<rect x="147.00" y="507.20" width="3.00" height="4.40" fill="#fff"/>
<rect x="147.80" y="508.60" width="1.40" height="1.60" fill="#000"/>
<rect x="160.10" y="506.10" width="18.90" height="6.60" fill="#000"/>
<rect x="171.20" y="507.20" width="1.50" height="4.40" fill="#fff"/>
<rect x="174.70" y="507.20" width="3.20" height="4.40" fill="#fff"/>
<rect x="175.60" y="508.60" width="1.40" height="1.60" fill="#000"/>
<rect x="187.00" y="506.10" width="19.30" height="6.60" fill="#000"/>
<rect x="188.30" y="507.20" width="2.30" height="4.40" fill="#fff"/>
<rect x="193.20" y="507.20" width="1.60" height="4.40" fill="#fff"/>
<rect x="197.50" y="507.20" width="1.50" height="4.40" fill="#fff"/>
<rect x="200.80" y="507.20" width="3.90" height="4.40" fill="#fff"/>
<rect x="202.05" y="508.60" width="1.40" height="1.60" fill="#000"/>
<rect x="404.00" y="183.20" width="18.50" height="12.40" fill="#000"/>
<rect x="409.20" y="184.30" width="2.10" height="9.30" fill="#fff"/>
<rect x="414.40" y="184.30" width="1.80" height="9.30" fill="#fff"/>
<rect x="405.00" y="193.60" width="16.50" height="1.00" fill="#fff"/>
<rect x="417.30" y="185.20" width="3.30" height="2.30" fill="#fff"/>
<rect x="417.30" y="190.50" width="3.30" height="2.40" fill="#fff"/>
<rect x="416.20" y="188.70" width="5.30" height="0.80" fill="#fff"/>
<rect x="426.30" y="183.20" width="18.50" height="12.40" fill="#000"/>
<rect x="431.50" y="184.30" width="2.10" height="9.30" fill="#fff"/>
<rect x="436.70" y="184.30" width="1.80" height="9.30" fill="#fff"/>
<rect x="427.30" y="193.60" width="16.50" height="1.00" fill="#fff"/>
<rect x="439.60" y="185.20" width="3.30" height="2.30" fill="#fff"/>
<rect x="439.60" y="190.50" width="3.30" height="2.40" fill="#fff"/>
<rect x="438.50" y="188.70" width="5.30" height="0.80" fill="#fff"/>
<rect x="464.40" y="189.30" width="17.90" height="6.30" fill="#000"/>
<rect x="469.30" y="190.40" width="1.40" height="4.10" fill="#fff"/>
<rect x="473.90" y="190.40" width="1.40" height="4.10" fill="#fff"/>
<rect x="465.40" y="193.60" width="15.90" height="1.00" fill="#fff"/>
<rect x="477.60" y="191.30" width="2.90" height="1.70" fill="#fff"/>
<rect x="425.20" y="205.10" width="18.80" height="6.60" fill="#000"/>
<rect x="430.60" y="206.20" width="1.50" height="4.40" fill="#fff"/>
<rect x="436.00" y="206.20" width="1.50" height="4.40" fill="#fff"/>
<rect x="426.20" y="209.70" width="16.80" height="1.00" fill="#fff"/>
<rect x="438.70" y="207.10" width="2.70" height="2.00" fill="#fff"/>
<rect x="448.30" y="205.10" width="19.40" height="6.60" fill="#000"/>
<rect x="449.50" y="206.20" width="1.40" height="4.40" fill="#fff"/>
<rect x="454.30" y="206.20" width="1.40" height="4.40" fill="#fff"/>
<rect x="459.20" y="206.20" width="1.20" height="4.40" fill="#fff"/>
<rect x="449.30" y="209.70" width="17.40" height="1.00" fill="#fff"/>
<rect x="462.40" y="207.10" width="3.30" height="2.00" fill="#fff"/>
<rect x="754.90" y="20.80" width="6.30" height="19.10" fill="#000"/>
<rect x="756.00" y="26.00" width="4.10" height="1.90" fill="#fff"/>
<rect x="756.00" y="31.60" width="4.10" height="1.00" fill="#fff"/>
<rect x="756.60" y="33.80" width="2.90" height="3.40" fill="#fff"/>
<rect x="757.50" y="34.80" width="1.10" height="1.40" fill="#666"/>
<rect x="756.00" y="38.00" width="4.10" height="0.90" fill="#fff"/>
<rect x="754.90" y="43.90" width="6.30" height="12.80" fill="#000"/>
<rect x="756.00" y="44.80" width="4.10" height="1.10" fill="#fff"/>
<rect x="756.00" y="49.90" width="4.10" height="1.30" fill="#fff"/>
<rect x="727.90" y="215.20" width="25.00" height="18.50" fill="#000"/>
<rect x="728.90" y="216.20" width="23.00" height="16.50" fill="#fff"/>
<rect x="729.80" y="217.10" width="4.25" height="3.97" fill="#000"/>
<rect x="735.45" y="217.10" width="4.25" height="3.97" fill="#000"/>
<rect x="741.10" y="217.10" width="4.25" height="3.97" fill="#000"/>
<rect x="746.75" y="217.10" width="4.25" height="3.97" fill="#000"/>
<rect x="729.80" y="222.47" width="4.25" height="3.97" fill="#000"/>
<rect x="735.45" y="222.47" width="4.25" height="3.97" fill="#000"/>
<rect x="741.10" y="222.47" width="4.25" height="3.97" fill="#000"/>
<rect x="746.75" y="222.47" width="4.25" height="3.97" fill="#000"/>
<rect x="729.80" y="227.83" width="4.25" height="3.97" fill="#000"/>
<rect x="735.45" y="227.83" width="4.25" height="3.97" fill="#000"/>
<rect x="741.10" y="227.83" width="4.25" height="3.97" fill="#000"/>
<rect x="746.75" y="227.83" width="4.25" height="3.97" fill="#000"/>
<rect x="747.75" y="228.83" width="2.25" height="1.97" fill="#fff"/>
<rect x="703.00" y="264.90" width="6.10" height="12.90" fill="#000"/>
<rect x="709.00" y="259.00" width="6.00" height="18.80" fill="#000"/>
<rect x="704.00" y="265.70" width="4.20" height="1.00" fill="#fff"/>
<rect x="708.20" y="265.70" width="0.90" height="10.90" fill="#fff"/>
<rect x="704.00" y="271.00" width="3.50" height="1.00" fill="#fff"/>
<rect x="710.10" y="260.10" width="3.80" height="1.00" fill="#fff"/>
<rect x="710.10" y="265.00" width="3.80" height="1.00" fill="#fff"/>
<rect x="710.10" y="271.00" width="3.80" height="1.00" fill="#fff"/>
<rect x="711.10" y="272.90" width="1.90" height="2.80" fill="#fff"/>
<rect x="756.90" y="313.80" width="7.20" height="26.10" fill="#000"/>
<rect x="758.00" y="315.00" width="5.00" height="1.00" fill="#fff"/>
<rect x="758.00" y="320.10" width="5.00" height="1.10" fill="#fff"/>
<rect x="758.00" y="326.00" width="5.00" height="1.10" fill="#fff"/>
<rect x="758.00" y="331.90" width="5.00" height="1.10" fill="#fff"/>
<rect x="758.00" y="337.10" width="5.00" height="1.90" fill="#fff"/>
<rect x="758.90" y="317.00" width="3.10" height="2.20" fill="#fff"/>
<rect x="569.00" y="365.20" width="7.00" height="13.40" fill="#000"/>
<rect x="570.00" y="366.30" width="0.90" height="11.30" fill="#fff"/>
<rect x="570.00" y="366.30" width="5.00" height="0.95" fill="#fff"/>
<rect x="570.00" y="371.60" width="5.00" height="0.95" fill="#fff"/>
<rect x="570.00" y="376.70" width="5.00" height="0.95" fill="#fff"/>
<rect x="383.10" y="411.00" width="12.00" height="18.80" fill="#000"/>
<rect x="395.00" y="416.10" width="5.90" height="13.70" fill="#000"/>
<rect x="384.00" y="417.00" width="4.10" height="1.00" fill="#fff"/>
<rect x="390.10" y="417.00" width="3.70" height="1.00" fill="#fff"/>
<rect x="395.40" y="417.00" width="4.60" height="1.00" fill="#fff"/>
<rect x="384.00" y="422.90" width="4.10" height="1.00" fill="#fff"/>
<rect x="390.10" y="422.90" width="3.70" height="1.00" fill="#fff"/>
<rect x="395.40" y="422.90" width="4.60" height="1.00" fill="#fff"/>
<rect x="384.00" y="427.90" width="4.10" height="1.00" fill="#fff"/>
<rect x="390.10" y="427.90" width="3.70" height="1.00" fill="#fff"/>
<rect x="395.40" y="427.90" width="4.60" height="1.00" fill="#fff"/>
<rect x="389.20" y="412.00" width="0.90" height="16.80" fill="#fff"/>
<rect x="384.90" y="424.90" width="2.20" height="2.20" fill="#fff"/>
<rect x="390.90" y="424.90" width="2.30" height="2.20" fill="#fff"/>
<rect x="289.00" y="99.00" width="13.40" height="3.50" fill="#000"/>
<rect x="308.30" y="99.00" width="1.30" height="3.50" fill="#000"/>
<rect x="317.80" y="99.00" width="7.10" height="3.50" fill="#000"/>
<rect x="332.00" y="99.00" width="9.40" height="3.50" fill="#000"/>
<rect x="352.00" y="99.00" width="14.00" height="3.50" fill="#000"/>
<rect x="295.00" y="102.20" width="65.30" height="18.60" fill="#000"/>
<rect x="288.60" y="107.00" width="3.80" height="7.60" fill="#000"/>
<rect x="289.60" y="108.00" width="1.80" height="5.60" fill="#fff"/>
<rect x="292.40" y="110.00" width="2.60" height="1.60" fill="#000"/>
<rect x="297.40" y="107.70" width="4.30" height="0.90" fill="#fff"/>
<rect x="303.27" y="107.70" width="4.30" height="0.90" fill="#fff"/>
<rect x="309.14" y="107.70" width="4.30" height="0.90" fill="#fff"/>
<rect x="315.01" y="107.70" width="4.30" height="0.90" fill="#fff"/>
<rect x="320.88" y="107.70" width="4.30" height="0.90" fill="#fff"/>
<rect x="326.75" y="107.70" width="4.30" height="0.90" fill="#fff"/>
<rect x="332.62" y="107.70" width="4.30" height="0.90" fill="#fff"/>
<rect x="338.49" y="107.70" width="4.30" height="0.90" fill="#fff"/>
<rect x="344.36" y="107.70" width="4.30" height="0.90" fill="#fff"/>
<rect x="350.23" y="107.70" width="4.30" height="0.90" fill="#fff"/>
<rect x="356.10" y="107.70" width="2.50" height="0.90" fill="#fff"/>
<rect x="297.40" y="113.00" width="4.30" height="0.90" fill="#fff"/>
<rect x="303.27" y="113.00" width="4.30" height="0.90" fill="#fff"/>
<rect x="309.14" y="113.00" width="4.30" height="0.90" fill="#fff"/>
<rect x="296.10" y="107.70" width="0.90" height="12.10" fill="#fff"/>
<rect x="296.10" y="119.00" width="63.30" height="0.90" fill="#fff"/>
<rect x="312.60" y="103.40" width="0.90" height="16.00" fill="#fff"/>
<rect x="319.20" y="103.40" width="0.90" height="16.00" fill="#fff"/>
<rect x="325.20" y="103.40" width="0.90" height="16.00" fill="#fff"/>
<rect x="354.30" y="103.40" width="0.90" height="16.00" fill="#fff"/>
<rect x="296.90" y="115.40" width="3.00" height="2.80" fill="#fff"/>
<rect x="297.95" y="116.40" width="0.90" height="0.90" fill="#444"/>
<rect x="302.77" y="115.40" width="3.00" height="2.80" fill="#fff"/>
<rect x="303.82" y="116.40" width="0.90" height="0.90" fill="#444"/>
<rect x="308.64" y="115.40" width="3.00" height="2.80" fill="#fff"/>
<rect x="309.69" y="116.40" width="0.90" height="0.90" fill="#444"/>
<rect x="314.51" y="115.40" width="3.00" height="2.80" fill="#fff"/>
<rect x="315.56" y="116.40" width="0.90" height="0.90" fill="#444"/>
<rect x="320.38" y="115.40" width="3.00" height="2.80" fill="#fff"/>
<rect x="321.43" y="116.40" width="0.90" height="0.90" fill="#444"/>
<rect x="326.25" y="115.40" width="3.00" height="2.80" fill="#fff"/>
<rect x="327.30" y="116.40" width="0.90" height="0.90" fill="#444"/>
<rect x="332.12" y="115.40" width="3.00" height="2.80" fill="#fff"/>
<rect x="333.17" y="116.40" width="0.90" height="0.90" fill="#444"/>
<rect x="337.99" y="115.40" width="3.00" height="2.80" fill="#fff"/>
<rect x="339.04" y="116.40" width="0.90" height="0.90" fill="#444"/>
<rect x="343.86" y="115.40" width="3.00" height="2.80" fill="#fff"/>
<rect x="344.91" y="116.40" width="0.90" height="0.90" fill="#444"/>
<rect x="349.73" y="115.40" width="3.00" height="2.80" fill="#fff"/>
<rect x="350.78" y="116.40" width="0.90" height="0.90" fill="#444"/>
<rect x="355.60" y="115.40" width="3.00" height="2.80" fill="#fff"/>
<rect x="356.65" y="116.40" width="0.90" height="0.90" fill="#444"/>
<rect x="531.30" y="396.30" width="57.50" height="18.50" fill="#000" rx="3"/>
<rect x="531.30" y="422.70" width="57.50" height="18.50" fill="#000" rx="3"/>
<rect x="531.30" y="449.10" width="57.50" height="18.50" fill="#000" rx="3"/>
<rect x="531.30" y="475.50" width="57.50" height="18.50" fill="#000" rx="3"/>
<rect x="70.00" y="3.00" width="35.20" height="18.80" fill="#000" rx="3.5"/>
<polygon points="71.91,16.84 70.15,19.66 68.47,22.14 65.43,25.32 63.45,27.12 66.15,30.08 68.13,28.27 71.57,25.54 74.19,24.10 77.17,22.61" fill="#000"/>
<rect x="5.30" y="26.20" width="35.70" height="18.80" fill="#000" rx="3.5"/>
<polygon points="39.50,39.10 42.70,38.20 46.84,37.50 52.28,36.40 55.60,36.40 55.60,34.40 52.28,34.40 46.84,33.30 42.70,32.60 39.50,31.70" fill="#000"/>
<rect x="87.00" y="26.20" width="36.10" height="18.50" fill="#000" rx="3.5"/>
<polygon points="88.58,31.82 85.36,32.66 81.37,33.27 76.05,34.27 72.82,34.20 72.78,36.20 76.01,36.27 81.28,37.47 85.24,38.25 88.42,39.22" fill="#000"/>
<rect x="89.30" y="69.90" width="36.60" height="19.00" fill="#000" rx="3.5"/>
<polygon points="91.02,75.61 87.82,76.49 83.63,77.16 78.15,78.22 74.81,78.20 74.79,80.20 78.14,80.22 83.60,81.36 87.78,82.09 90.98,83.01" fill="#000"/>
<rect x="3.00" y="128.00" width="35.80" height="18.80" fill="#000" rx="3.5"/>
<polygon points="37.15,140.66 40.39,139.89 44.47,139.35 49.88,138.47 53.16,138.60 53.24,136.60 49.96,136.47 44.64,135.15 40.61,134.29 37.45,133.26" fill="#000"/>
<rect x="79.70" y="129.70" width="35.70" height="18.70" fill="#000" rx="3.5"/>
<polygon points="81.32,135.33 78.09,136.13 73.80,136.69 68.22,137.61 64.83,137.50 64.77,139.50 68.16,139.61 73.66,140.89 77.91,141.73 81.08,142.73" fill="#000"/>
<rect x="137.50" y="19.20" width="35.10" height="18.40" fill="#000" rx="3.5"/>
<polygon points="171.08,31.39 174.28,30.51 178.51,29.84 184.03,28.78 187.39,28.80 187.41,26.80 184.04,26.78 178.54,25.64 174.32,24.91 171.12,23.99" fill="#000"/>
<rect x="155.00" y="43.70" width="35.00" height="18.90" fill="#000" rx="3.5"/>
<polygon points="186.92,48.56 188.94,45.92 191.80,42.90 195.46,38.78 198.10,36.80 196.90,35.20 194.26,37.18 189.28,39.54 185.58,41.44 182.48,42.64" fill="#000"/>
<rect x="209.40" y="42.90" width="34.80" height="19.20" fill="#000" rx="3.5"/>
<polygon points="216.46,42.04 213.28,41.05 209.45,39.40 204.32,37.37 201.55,35.56 200.45,37.24 203.23,39.04 207.16,42.92 210.23,45.75 212.42,48.25" fill="#000"/>
<rect x="247.20" y="127.50" width="35.40" height="18.40" fill="#000" rx="3.5"/>
<polygon points="279.98,131.40 281.61,128.50 283.97,125.15 287.40,121.02 289.71,118.71 288.29,117.29 285.98,119.60 281.85,123.03 278.50,125.39 275.60,127.02" fill="#000"/>
<rect x="215.00" y="170.00" width="35.00" height="18.80" fill="#000" rx="3.5"/>
<polygon points="247.91,175.52 249.86,172.83 252.16,170.12 255.29,166.23 257.62,164.38 256.38,162.82 254.05,164.66 249.55,166.83 246.39,168.44 243.32,169.72" fill="#000"/>
<rect x="266.90" y="170.00" width="34.80" height="18.80" fill="#000" rx="3.5"/>
<polygon points="273.79,169.87 270.79,168.44 267.95,166.89 263.77,164.70 261.66,162.85 260.34,164.35 262.45,166.20 265.19,170.05 267.10,172.66 268.92,175.44" fill="#000"/>
<rect x="266.30" y="101.60" width="12.70" height="18.00" fill="#000" rx="3.5"/>
<polygon points="277.44,113.88 280.65,113.04 282.88,112.38 286.67,111.76 288.98,111.80 289.02,109.80 286.71,109.76 282.94,108.98 280.75,108.24 277.56,107.28" fill="#000"/>
<rect x="369.60" y="102.40" width="12.80" height="17.00" fill="#000" rx="3.5"/>
<polygon points="371.10,107.50 367.90,108.40 366.28,109.10 363.00,109.80 361.00,109.80 361.00,111.80 363.00,111.80 366.28,112.50 367.90,113.20 371.10,114.10" fill="#000"/>
<rect x="287.70" y="82.70" width="12.00" height="16.70" fill="#000" rx="1.2"/>
<rect x="300.50" y="82.70" width="14.90" height="16.70" fill="#000" rx="1.2"/>
<rect x="323.80" y="82.70" width="14.40" height="16.70" fill="#000" rx="1.2"/>
<rect x="340.60" y="82.70" width="14.90" height="16.70" fill="#000" rx="1.2"/>
<rect x="355.40" y="82.70" width="12.40" height="16.70" fill="#000" rx="1.2"/>
<rect x="294.40" y="124.90" width="11.80" height="17.00" fill="#000" rx="3.5"/>
<polygon points="302.87,129.82 304.43,126.88 304.80,125.48 306.34,122.84 307.59,121.52 304.41,118.48 303.15,119.80 300.59,121.48 299.21,121.93 296.35,123.63" fill="#000"/>
<rect x="313.20" y="124.90" width="11.70" height="17.00" fill="#000" rx="3.5"/>
<polygon points="321.88,129.64 323.23,126.59 323.37,125.33 324.61,122.72 325.70,121.40 322.30,118.60 321.21,119.92 318.89,121.63 317.67,122.01 314.94,123.91" fill="#000"/>
<rect x="335.80" y="124.90" width="12.30" height="17.00" fill="#000" rx="3.5"/>
<polygon points="345.21,122.74 342.02,121.78 339.54,121.03 335.76,119.46 333.68,118.14 331.32,121.86 333.40,123.18 336.43,125.93 338.16,127.86 340.38,130.33" fill="#000"/>
<rect x="349.60" y="124.90" width="11.80" height="17.00" fill="#000" rx="3.5"/>
<polygon points="359.49,123.70 356.67,121.95 355.33,121.52 352.83,119.83 351.62,118.51 348.38,121.49 349.59,122.81 351.05,125.44 351.36,126.81 352.86,129.78" fill="#000"/>
<rect x="99.00" y="202.90" width="33.00" height="18.90" fill="#000" rx="4.5"/>
<rect x="90.80" y="251.70" width="30.80" height="16.10" fill="#000" rx="3.5"/>
<rect x="124.20" y="243.80" width="32.00" height="17.40" fill="#000" rx="2.5"/>
<rect x="165.60" y="239.40" width="32.60" height="18.20" fill="#000" rx="3.5"/>
<rect x="168.00" y="257.40" width="33.50" height="18.20" fill="#000" rx="3.5"/>
<rect x="184.70" y="280.20" width="35.40" height="18.40" fill="#000" rx="3.5"/>
<polygon points="186.50,285.53 183.28,286.34 179.33,286.93 174.04,287.89 170.83,287.80 170.77,289.80 173.98,289.89 179.21,291.13 183.12,291.94 186.30,292.93" fill="#000"/>
<rect x="162.00" y="302.50" width="34.60" height="18.00" fill="#000" rx="3.5"/>
<polygon points="168.62,301.27 165.57,299.94 162.21,298.09 157.55,295.71 155.13,293.73 153.87,295.27 156.29,297.25 159.55,301.35 162.02,304.27 163.93,307.00" fill="#000"/>
<rect x="103.70" y="303.30" width="33.40" height="17.20" fill="#000" rx="3.5"/>
<polygon points="135.21,307.73 137.01,304.93 139.52,301.75 142.75,297.40 145.17,295.25 143.83,293.75 141.41,295.91 136.72,298.62 133.28,300.75 130.29,302.20" fill="#000"/>
<rect x="37.00" y="272.10" width="35.90" height="18.60" fill="#000" rx="3.5"/>
<polygon points="71.33,285.08 74.54,284.24 78.57,283.63 83.92,282.63 87.18,282.70 87.22,280.70 83.96,280.63 78.66,279.43 74.66,278.65 71.48,277.68" fill="#000"/>
<rect x="57.30" y="324.90" width="35.10" height="18.90" fill="#000" rx="3.5"/>
<polygon points="90.95,337.91 94.14,336.97 98.44,336.22 104.00,335.04 107.41,335.00 107.39,333.00 103.98,333.04 98.38,332.02 94.06,331.37 90.85,330.51" fill="#000"/>
<rect x="144.40" y="324.90" width="36.50" height="18.30" fill="#000" rx="3.5"/>
<polygon points="146.05,330.51 142.84,331.37 138.64,332.02 133.16,333.04 129.81,333.00 129.79,335.00 133.13,335.04 138.59,336.22 142.76,336.97 145.95,337.91" fill="#000"/>
<rect x="74.90" y="365.60" width="33.00" height="16.60" fill="#000" rx="3.5"/>
<polygon points="105.60,370.08 107.48,367.34 110.18,364.18 113.61,359.88 116.14,357.77 114.86,356.23 112.33,358.34 107.48,360.96 103.89,363.04 100.86,364.40" fill="#000"/>
<rect x="127.00" y="364.60" width="33.70" height="17.10" fill="#000" rx="3.5"/>
<polygon points="133.96,363.84 130.95,362.44 127.84,360.71 123.42,358.38 121.15,356.44 119.85,357.96 122.12,359.90 125.11,363.90 127.31,366.70 129.16,369.46" fill="#000"/>
<rect x="177.60" y="369.80" width="32.40" height="17.80" fill="#000" rx="4"/>
<rect x="124.60" y="434.90" width="48.80" height="20.60" fill="#000"/>
<rect x="57.50" y="501.30" width="35.20" height="17.10" fill="#000" rx="3.5"/>
<polygon points="91.27,513.42 94.46,512.46 98.50,511.67 103.84,510.47 107.12,510.40 107.08,508.40 103.80,508.47 98.42,507.47 94.34,506.86 91.13,506.02" fill="#000"/>
<rect x="101.20" y="519.00" width="32.50" height="17.50" fill="#000" rx="3.5"/>
<polygon points="131.45,523.55 133.45,520.89 135.68,518.31 138.80,514.56 141.11,512.80 139.89,511.20 137.58,512.96 133.14,514.97 130.05,516.44 126.96,517.66" fill="#000"/>
<rect x="178.80" y="520.00" width="34.30" height="16.50" fill="#000" rx="3.5"/>
<polygon points="185.62,518.77 182.57,517.44 179.21,515.59 174.55,513.21 172.13,511.23 170.87,512.77 173.29,514.75 176.55,518.85 179.02,521.77 180.93,524.50" fill="#000"/>
<rect x="221.20" y="499.40" width="35.10" height="17.70" fill="#000" rx="3.5"/>
<polygon points="222.49,504.75 219.34,505.83 215.03,506.78 209.47,508.20 206.04,508.40 206.16,510.40 209.59,510.20 215.27,510.97 219.66,511.42 222.91,512.14" fill="#000"/>
<rect x="418.90" y="148.90" width="31.20" height="15.80" fill="#000" rx="2"/>
<polygon points="430.30,163.00 431.20,166.20 431.90,172.40 432.10,179.60 432.10,184.00 435.10,184.00 435.10,179.60 435.30,172.40 436.00,166.20 436.90,163.00" fill="#000"/>
<rect x="452.40" y="169.80" width="33.20" height="15.80" fill="#000" rx="3.5"/>
<polygon points="453.32,181.20 451.38,183.90 449.34,186.43 446.18,189.86 443.98,191.62 445.22,193.18 447.42,191.42 451.46,189.09 454.38,187.65 457.44,186.35" fill="#000"/>
<rect x="353.50" y="177.00" width="35.50" height="19.00" fill="#000" rx="3.5"/>
<polygon points="387.27,190.03 390.52,189.33 394.96,188.92 400.68,188.18 404.14,188.40 404.26,186.40 400.81,186.18 395.23,184.72 390.87,183.75 387.74,182.64" fill="#000"/>
<rect x="363.20" y="198.60" width="34.60" height="18.10" fill="#000" rx="3.5"/>
<polygon points="395.53,203.31 397.47,200.61 400.14,197.58 403.59,193.40 406.12,191.38 404.88,189.82 402.35,191.84 397.52,194.30 393.97,196.24 390.91,197.54" fill="#000"/>
<rect x="496.80" y="183.10" width="36.20" height="18.20" fill="#000" rx="3.5"/>
<polygon points="498.58,188.59 495.38,189.51 491.29,190.24 485.89,191.38 482.59,191.40 482.61,193.40 485.91,193.38 491.31,194.44 495.42,195.11 498.62,195.99" fill="#000"/>
<rect x="393.90" y="218.50" width="34.90" height="17.90" fill="#000" rx="3.5"/>
<polygon points="426.69,223.24 428.50,220.45 430.59,217.68 433.46,213.69 435.66,211.75 434.34,210.25 432.14,212.19 427.81,214.53 424.80,216.24 421.80,217.68" fill="#000"/>
<rect x="464.00" y="217.90" width="33.80" height="18.90" fill="#000" rx="3.5"/>
<polygon points="471.14,217.20 468.11,215.84 465.23,214.35 461.00,212.24 458.84,210.43 457.56,211.97 459.71,213.77 462.54,217.57 464.52,220.14 466.39,222.88" fill="#000"/>
<rect x="270.10" y="267.00" width="33.80" height="18.90" fill="#000" rx="3.5"/>
<polygon points="289.88,268.59 289.05,265.37 288.47,260.41 288.21,254.28 288.30,250.54 284.90,250.46 284.81,254.20 284.27,260.31 283.45,265.23 282.48,268.41" fill="#000"/>
<rect x="706.60" y="21.40" width="33.40" height="17.30" fill="#000" rx="3.5"/>
<polygon points="738.64,33.34 741.81,32.31 746.17,31.45 751.78,30.13 755.24,30.00 755.16,28.00 751.71,28.13 746.01,27.25 741.59,26.72 738.36,25.94" fill="#000"/>
<rect x="704.40" y="41.20" width="35.60" height="18.50" fill="#000" rx="3.5"/>
<polygon points="738.55,54.31 741.74,53.37 746.20,52.62 751.91,51.44 755.41,51.40 755.39,49.40 751.89,49.44 746.15,48.42 741.66,47.77 738.45,46.91" fill="#000"/>
<rect x="678.50" y="215.50" width="34.70" height="18.10" fill="#000" rx="3.5"/>
<polygon points="711.80,228.32 714.97,227.34 719.22,226.53 724.74,225.29 728.13,225.20 728.07,223.20 724.69,223.29 719.11,222.33 714.83,221.74 711.60,220.93" fill="#000"/>
<rect x="652.80" y="262.10" width="35.40" height="18.60" fill="#000" rx="3.5"/>
<polygon points="686.70,275.00 689.90,274.10 694.29,273.40 699.95,272.30 703.40,272.30 703.40,270.30 699.95,270.30 694.29,269.20 689.90,268.50 686.70,267.60" fill="#000"/>
<rect x="730.30" y="261.30" width="35.70" height="18.00" fill="#000" rx="3.5"/>
<polygon points="731.71,266.48 728.53,267.46 724.07,268.27 718.37,269.51 714.87,269.60 714.93,271.60 718.42,271.51 724.17,272.47 728.67,273.05 731.89,273.87" fill="#000"/>
<rect x="707.10" y="316.00" width="36.10" height="18.90" fill="#000" rx="3.5"/>
<polygon points="741.70,328.90 744.90,328.00 748.71,327.30 753.85,326.20 757.00,326.20 757.00,324.20 753.85,324.20 748.71,323.10 744.90,322.40 741.70,321.50" fill="#000"/>
<rect x="519.10" y="363.00" width="35.70" height="18.00" fill="#000" rx="3.5"/>
<polygon points="553.30,375.70 556.50,374.80 560.56,374.10 565.92,373.00 569.20,373.00 569.20,371.00 565.92,371.00 560.56,369.90 556.50,369.20 553.30,368.30" fill="#000"/>
<rect x="351.30" y="385.80" width="33.50" height="18.50" fill="#000" rx="3.5"/>
<polygon points="377.93,405.60 381.01,406.86 384.12,408.40 388.57,410.48 390.88,412.29 392.12,410.71 389.81,408.91 386.70,405.09 384.46,402.45 382.49,399.77" fill="#000"/>
<rect x="332.50" y="410.80" width="35.10" height="18.50" fill="#000" rx="3.5"/>
<polygon points="366.10,423.70 369.30,422.80 373.99,422.10 379.89,421.00 383.50,421.00 383.50,419.00 379.89,419.00 373.99,417.90 369.30,417.20 366.10,416.30" fill="#000"/>
<rect x="357.50" y="436.30" width="33.40" height="18.00" fill="#000" rx="3.5"/>
<polygon points="388.55,440.81 390.47,438.09 392.73,435.36 395.82,431.45 398.13,429.58 396.87,428.02 394.56,429.89 390.09,432.10 386.95,433.74 383.89,435.05" fill="#000"/>
<rect x="288.00" y="20.90" width="33.10" height="14.00" fill="#000"/>
<rect x="288.00" y="65.50" width="33.10" height="13.60" fill="#000"/>
<rect x="589.00" y="196.90" width="33.90" height="14.00" fill="#000"/>
<rect x="589.00" y="240.80" width="33.90" height="14.10" fill="#000"/>
<rect x="589.00" y="286.00" width="33.90" height="13.80" fill="#000"/>
<rect x="589.00" y="331.30" width="33.90" height="13.50" fill="#000"/>
<rect x="533.30" y="398.30" width="53.50" height="14.50" fill="#fff" rx="1.8"/>
<rect x="533.30" y="424.70" width="53.50" height="14.50" fill="#fff" rx="1.8"/>
<rect x="533.30" y="451.10" width="53.50" height="14.50" fill="#fff" rx="1.8"/>
<rect x="533.30" y="477.50" width="53.50" height="14.50" fill="#fff" rx="1.8"/>
<rect x="71.90" y="4.90" width="30.50" height="14.50" fill="#fff" rx="2.3"/>
<polygon points="75.01,17.27 71.76,20.39 70.20,23.68 73.62,22.43 77.03,19.49" fill="#fff"/>
<rect x="6.80" y="27.90" width="32.20" height="14.90" fill="#fff" rx="2.3"/>
<polygon points="37.50,36.70 42.00,36.60 46.54,35.40 42.00,34.20 37.50,34.10" fill="#fff"/>
<rect x="88.90" y="28.10" width="31.80" height="13.90" fill="#fff" rx="2.3"/>
<polygon points="90.53,34.26 86.02,34.27 81.62,35.38 85.98,36.67 90.47,36.86" fill="#fff"/>
<rect x="92.10" y="72.00" width="31.10" height="14.60" fill="#fff" rx="2.3"/>
<polygon points="93.01,78.02 88.51,78.09 83.92,79.26 88.49,80.49 92.99,80.62" fill="#fff"/>
<rect x="4.90" y="129.90" width="31.50" height="14.50" fill="#fff" rx="2.3"/>
<polygon points="35.25,138.18 39.75,138.26 44.26,137.24 39.85,135.87 35.35,135.58" fill="#fff"/>
<rect x="81.60" y="131.60" width="31.40" height="14.40" fill="#fff" rx="2.3"/>
<polygon points="83.24,137.80 78.74,137.76 74.04,138.80 78.66,140.15 83.16,140.40" fill="#fff"/>
<rect x="139.40" y="21.10" width="30.80" height="14.10" fill="#fff" rx="2.3"/>
<polygon points="169.09,28.98 173.59,28.91 178.22,27.74 173.61,26.51 169.11,26.38" fill="#fff"/>
<rect x="156.90" y="45.60" width="30.70" height="14.60" fill="#fff" rx="2.3"/>
<polygon points="183.88,47.84 187.42,45.06 190.30,41.40 185.98,43.14 182.32,45.76" fill="#fff"/>
<rect x="211.30" y="44.80" width="29.90" height="14.90" fill="#fff" rx="2.3"/>
<polygon points="216.82,45.15 213.00,42.78 208.56,41.32 211.69,44.78 215.41,47.33" fill="#fff"/>
<rect x="249.10" y="129.40" width="31.10" height="14.10" fill="#fff" rx="2.3"/>
<polygon points="276.87,131.12 280.02,127.89 282.70,124.30 279.11,126.98 275.88,130.13" fill="#fff"/>
<rect x="217.20" y="172.20" width="30.40" height="14.20" fill="#fff" rx="2.3"/>
<polygon points="244.86,174.88 248.32,172.01 250.64,168.64 246.83,170.13 243.24,172.84" fill="#fff"/>
<rect x="269.10" y="172.20" width="29.60" height="14.20" fill="#fff" rx="2.3"/>
<polygon points="273.71,173.00 270.26,170.11 266.76,168.64 268.68,171.91 272.00,174.95" fill="#fff"/>
<rect x="268.20" y="103.50" width="8.40" height="13.70" fill="#fff" rx="2.3"/>
<polygon points="275.48,111.44 279.98,111.46 282.70,110.68 280.02,109.80 275.52,109.64" fill="#fff"/>
<rect x="371.50" y="104.30" width="8.50" height="12.70" fill="#fff" rx="2.3"/>
<polygon points="373.10,109.90 368.60,109.97 366.46,110.80 368.60,111.63 373.10,111.70" fill="#fff"/>
<rect x="290.00" y="83.60" width="7.70" height="12.10" fill="#fff" rx="0.5"/>
<rect x="303.00" y="83.60" width="10.00" height="12.10" fill="#fff" rx="0.5"/>
<rect x="326.60" y="83.60" width="8.90" height="12.10" fill="#fff" rx="0.5"/>
<rect x="343.80" y="83.60" width="8.80" height="12.10" fill="#fff" rx="0.5"/>
<rect x="356.70" y="83.60" width="8.30" height="12.10" fill="#fff" rx="0.5"/>
<rect x="296.60" y="126.50" width="7.20" height="12.60" fill="#fff" rx="2.3"/>
<polygon points="299.76,129.62 302.73,126.24 302.58,123.60 299.93,123.58 296.71,126.73" fill="#fff"/>
<rect x="315.40" y="126.50" width="7.10" height="12.60" fill="#fff" rx="2.3"/>
<polygon points="318.76,129.65 321.49,126.07 321.03,123.60 318.51,123.61 315.52,126.98" fill="#fff"/>
<rect x="338.00" y="126.50" width="7.70" height="12.60" fill="#fff" rx="2.3"/>
<polygon points="345.61,125.84 341.72,123.56 338.17,123.60 339.65,126.83 343.36,129.38" fill="#fff"/>
<rect x="351.80" y="126.50" width="7.20" height="12.60" fill="#fff" rx="2.3"/>
<polygon points="359.08,126.79 355.91,123.59 353.30,123.60 353.06,126.20 355.98,129.63" fill="#fff"/>
<rect x="102.00" y="204.90" width="28.00" height="14.10" fill="#fff" rx="3.3"/>
<rect x="91.80" y="252.70" width="28.20" height="13.50" fill="#fff" rx="2.3"/>
<rect x="125.40" y="245.00" width="29.20" height="14.00" fill="#fff" rx="1.3"/>
<rect x="166.60" y="240.60" width="28.80" height="14.80" fill="#fff" rx="2.3"/>
<rect x="169.00" y="260.40" width="30.50" height="13.20" fill="#fff" rx="2.3"/>
<rect x="186.60" y="282.10" width="31.10" height="14.10" fill="#fff" rx="2.3"/>
<polygon points="188.43,287.98 183.93,287.96 179.56,289.04 183.87,290.35 188.36,290.58" fill="#fff"/>
<rect x="163.90" y="304.40" width="30.10" height="13.50" fill="#fff" rx="2.3"/>
<polygon points="168.65,304.39 165.10,301.62 161.10,299.90 163.58,303.48 167.00,306.41" fill="#fff"/>
<rect x="105.60" y="305.20" width="29.10" height="12.90" fill="#fff" rx="2.3"/>
<polygon points="132.12,307.27 135.42,304.20 137.90,300.38 133.82,302.41 130.40,305.32" fill="#fff"/>
<rect x="39.00" y="274.30" width="31.90" height="14.10" fill="#fff" rx="2.3"/>
<polygon points="69.37,282.64 73.88,282.63 78.32,281.52 73.92,280.23 69.43,280.04" fill="#fff"/>
<rect x="59.20" y="326.80" width="30.80" height="14.60" fill="#fff" rx="2.3"/>
<polygon points="88.92,335.54 93.42,335.38 98.10,334.12 93.38,332.98 88.88,332.94" fill="#fff"/>
<rect x="146.30" y="326.80" width="32.20" height="14.00" fill="#fff" rx="2.3"/>
<polygon points="148.02,332.94 143.52,332.98 138.92,334.12 143.48,335.38 147.98,335.54" fill="#fff"/>
<rect x="76.80" y="367.50" width="28.70" height="12.30" fill="#fff" rx="2.3"/>
<polygon points="102.53,369.52 105.92,366.56 108.60,362.76 104.39,364.72 100.86,367.52" fill="#fff"/>
<rect x="128.90" y="366.50" width="29.40" height="12.80" fill="#fff" rx="2.3"/>
<polygon points="133.93,366.96 130.44,364.12 126.68,362.48 128.88,365.93 132.24,368.94" fill="#fff"/>
<rect x="180.00" y="372.00" width="27.60" height="13.40" fill="#fff" rx="2.8"/>
<rect x="126.00" y="437.80" width="46.00" height="14.10" fill="#fff" rx="1.5"/>
<rect x="59.40" y="503.20" width="30.90" height="12.80" fill="#fff" rx="2.3"/>
<polygon points="89.23,511.06 93.72,510.87 98.16,509.58 93.68,508.47 89.17,508.46" fill="#fff"/>
<rect x="103.10" y="520.90" width="28.20" height="13.20" fill="#fff" rx="2.3"/>
<polygon points="128.40,522.85 131.92,520.04 134.20,516.80 130.47,518.14 126.83,520.78" fill="#fff"/>
<rect x="180.70" y="521.90" width="30.00" height="12.20" fill="#fff" rx="2.3"/>
<polygon points="185.65,521.89 182.10,519.12 178.10,517.40 180.58,520.98 184.00,523.91" fill="#fff"/>
<rect x="223.10" y="501.30" width="30.60" height="13.20" fill="#fff" rx="2.3"/>
<polygon points="224.62,507.03 220.13,507.39 215.46,508.86 220.27,509.78 224.77,509.63" fill="#fff"/>
<rect x="420.10" y="150.10" width="28.40" height="13.20" fill="#fff" rx="0.8"/>
<polygon points="432.70,161.00 432.77,165.50 433.60,172.00 434.43,165.50 434.50,161.00" fill="#fff"/>
<rect x="453.80" y="171.20" width="29.40" height="12.00" fill="#fff" rx="2.3"/>
<polygon points="456.38,181.82 452.91,184.69 450.60,187.60 453.95,185.98 457.50,183.23" fill="#fff"/>
<rect x="355.90" y="179.40" width="31.10" height="13.60" fill="#fff" rx="2.3"/>
<polygon points="385.42,187.51 389.92,187.69 394.78,186.80 390.07,185.30 385.59,184.91" fill="#fff"/>
<rect x="365.10" y="200.50" width="30.30" height="13.20" fill="#fff" rx="2.3"/>
<polygon points="392.47,202.69 395.92,199.80 398.60,196.12 394.42,197.93 390.85,200.66" fill="#fff"/>
<rect x="499.40" y="185.40" width="31.20" height="13.30" fill="#fff" rx="2.3"/>
<polygon points="500.59,190.98 496.09,191.11 491.60,192.34 496.11,193.51 500.61,193.58" fill="#fff"/>
<rect x="395.80" y="220.40" width="30.60" height="13.00" fill="#fff" rx="2.3"/>
<polygon points="423.61,222.76 426.92,219.71 429.00,216.28 425.34,217.91 421.89,220.81" fill="#fff"/>
<rect x="466.30" y="219.80" width="29.10" height="14.30" fill="#fff" rx="2.3"/>
<polygon points="471.14,220.33 467.62,217.52 464.08,216.12 466.08,219.35 469.47,222.32" fill="#fff"/>
<rect x="272.00" y="268.90" width="29.50" height="14.60" fill="#fff" rx="2.3"/>
<polygon points="287.43,270.53 287.43,266.03 286.36,260.70 285.04,265.97 284.83,270.47" fill="#fff"/>
<rect x="708.50" y="23.30" width="29.10" height="13.00" fill="#fff" rx="2.3"/>
<polygon points="736.55,31.01 741.04,30.74 745.78,29.36 740.95,28.35 736.45,28.42" fill="#fff"/>
<rect x="706.40" y="43.20" width="31.20" height="14.10" fill="#fff" rx="2.3"/>
<polygon points="736.52,51.94 741.01,51.78 745.86,50.52 740.98,49.39 736.48,49.34" fill="#fff"/>
<rect x="680.40" y="217.40" width="30.40" height="13.80" fill="#fff" rx="2.3"/>
<polygon points="709.73,225.98 714.23,225.76 718.86,224.44 714.17,223.37 709.67,223.38" fill="#fff"/>
<rect x="654.70" y="264.00" width="31.10" height="14.30" fill="#fff" rx="2.3"/>
<polygon points="684.70,272.60 689.20,272.50 693.98,271.30 689.20,270.10 684.70,270.00" fill="#fff"/>
<rect x="732.20" y="263.50" width="31.40" height="13.40" fill="#fff" rx="2.3"/>
<polygon points="733.77,268.82 729.27,269.04 724.44,270.36 729.33,271.43 733.83,271.42" fill="#fff"/>
<rect x="709.00" y="317.90" width="31.80" height="14.60" fill="#fff" rx="2.3"/>
<polygon points="739.70,326.50 744.20,326.40 748.42,325.20 744.20,324.00 739.70,323.90" fill="#fff"/>
<rect x="521.00" y="364.90" width="31.40" height="13.70" fill="#fff" rx="2.3"/>
<polygon points="551.30,373.30 555.80,373.20 560.26,372.00 555.80,370.80 551.30,370.70" fill="#fff"/>
<rect x="353.20" y="387.70" width="29.20" height="14.20" fill="#fff" rx="2.3"/>
<polygon points="377.84,402.48 381.45,405.17 385.20,406.58 382.92,403.28 379.44,400.43" fill="#fff"/>
<rect x="334.40" y="412.70" width="30.80" height="14.20" fill="#fff" rx="2.3"/>
<polygon points="364.10,421.30 368.60,421.20 373.66,420.00 368.60,418.80 364.10,418.70" fill="#fff"/>
<rect x="359.40" y="438.20" width="29.10" height="13.70" fill="#fff" rx="2.3"/>
<polygon points="385.49,440.20 388.92,437.29 391.20,433.90 387.41,435.43 383.85,438.18" fill="#fff"/>
<rect x="289.90" y="20.90" width="29.10" height="14.00" fill="#fff" rx="1.5"/>
<rect x="289.90" y="65.50" width="29.10" height="13.60" fill="#fff" rx="1.5"/>
<rect x="591.00" y="196.90" width="29.10" height="14.00" fill="#fff" rx="1.5"/>
<rect x="591.00" y="240.80" width="29.10" height="14.10" fill="#fff" rx="1.5"/>
<rect x="591.00" y="286.00" width="29.10" height="13.80" fill="#fff" rx="1.5"/>
<rect x="591.00" y="331.30" width="29.10" height="13.50" fill="#fff" rx="1.5"/>
<text transform="translate(560.35,410.15) scale(0.9,1)" font-size="14" text-anchor="middle" letter-spacing="0.6">BANK 3</text>
<text transform="translate(560.35,436.55) scale(0.9,1)" font-size="14" text-anchor="middle" letter-spacing="0.6">BANK 2</text>
<text transform="translate(560.35,462.95) scale(0.9,1)" font-size="14" text-anchor="middle" letter-spacing="0.6">BANK 1</text>
<text transform="translate(560.35,489.35) scale(0.9,1)" font-size="14" text-anchor="middle" letter-spacing="0.6">BANK 0</text>
<text transform="translate(85.85,16.45) scale(0.93,1)" font-size="14" text-anchor="middle" letter-spacing="0.5">J70</text>
<text transform="translate(21.60,39.65) scale(0.93,1)" font-size="14" text-anchor="middle" letter-spacing="0.5">J71</text>
<text transform="translate(103.50,39.35) scale(0.93,1)" font-size="14" text-anchor="middle" letter-spacing="0.5">J69</text>
<text transform="translate(106.35,83.60) scale(0.93,1)" font-size="14" text-anchor="middle" letter-spacing="0.5">J76</text>
<text transform="translate(19.35,141.45) scale(0.93,1)" font-size="14" text-anchor="middle" letter-spacing="0.5">J73</text>
<text transform="translate(96.00,143.10) scale(0.93,1)" font-size="14" text-anchor="middle" letter-spacing="0.5">J72</text>
<text transform="translate(153.50,32.45) scale(0.93,1)" font-size="14" text-anchor="middle" letter-spacing="0.5">J59</text>
<text transform="translate(170.95,57.20) scale(0.93,1)" font-size="14" text-anchor="middle" letter-spacing="0.5">J58</text>
<text transform="translate(224.95,56.55) scale(0.93,1)" font-size="14" text-anchor="middle" letter-spacing="0.5">J57</text>
<text transform="translate(263.35,140.75) scale(0.93,1)" font-size="14" text-anchor="middle" letter-spacing="0.5">J31</text>
<text transform="translate(231.10,183.60) scale(0.93,1)" font-size="14" text-anchor="middle" letter-spacing="0.5">J33</text>
<text transform="translate(282.60,183.60) scale(0.93,1)" font-size="14" text-anchor="middle" letter-spacing="0.5">J32</text>
<text x="271.10" y="114.65" font-size="14" text-anchor="middle" letter-spacing="0.5" textLength="6.2" lengthAdjust="spacingAndGlyphs">K</text>
<text x="374.45" y="114.95" font-size="14" text-anchor="middle" letter-spacing="0.5" textLength="6.4" lengthAdjust="spacingAndGlyphs">A</text>
<text x="293.45" y="94.25" font-size="14" text-anchor="middle" letter-spacing="0.5" textLength="4.6" lengthAdjust="spacingAndGlyphs">J</text>
<text x="307.60" y="94.25" font-size="14" text-anchor="middle" letter-spacing="0.5" textLength="6.8" lengthAdjust="spacingAndGlyphs">H</text>
<text x="330.65" y="94.25" font-size="14" text-anchor="middle" letter-spacing="0.5" textLength="6.8" lengthAdjust="spacingAndGlyphs">G</text>
<text x="347.80" y="94.25" font-size="14" text-anchor="middle" letter-spacing="0.5" textLength="6.0" lengthAdjust="spacingAndGlyphs">D</text>
<text x="360.45" y="94.25" font-size="14" text-anchor="middle" letter-spacing="0.5" textLength="5.2" lengthAdjust="spacingAndGlyphs">B</text>
<text transform="translate(299.20,136.70) scale(0.93,1)" font-size="14" text-anchor="middle" letter-spacing="0.5">I</text>
<text x="317.95" y="136.70" font-size="14" text-anchor="middle" letter-spacing="0.5" textLength="5.6" lengthAdjust="spacingAndGlyphs">F</text>
<text x="340.85" y="136.70" font-size="14" text-anchor="middle" letter-spacing="0.5" textLength="5.6" lengthAdjust="spacingAndGlyphs">E</text>
<text x="354.40" y="136.70" font-size="14" text-anchor="middle" letter-spacing="0.5" textLength="5.6" lengthAdjust="spacingAndGlyphs">C</text>
<text transform="translate(114.30,218.55) scale(0.93,1)" font-size="14" text-anchor="middle" letter-spacing="0.9">CPU</text>
<text transform="translate(104.60,263.75) scale(0.93,1)" font-size="14" text-anchor="middle" letter-spacing="0.5">J52</text>
<text transform="translate(138.70,256.30) scale(0.93,1)" font-size="14" text-anchor="middle" letter-spacing="0.5">J51</text>
<text transform="translate(179.70,252.30) scale(0.93,1)" font-size="14" text-anchor="middle" letter-spacing="0.5">J49</text>
<text transform="translate(182.95,271.30) scale(0.93,1)" font-size="14" text-anchor="middle" letter-spacing="0.5">J47</text>
<text transform="translate(200.85,293.45) scale(0.93,1)" font-size="14" text-anchor="middle" letter-spacing="0.5">J46</text>
<text transform="translate(177.65,315.45) scale(0.93,1)" font-size="14" text-anchor="middle" letter-spacing="0.5">J48</text>
<text transform="translate(118.85,315.95) scale(0.93,1)" font-size="14" text-anchor="middle" letter-spacing="0.5">J50</text>
<text transform="translate(53.65,285.65) scale(0.93,1)" font-size="14" text-anchor="middle" letter-spacing="0.5">J74</text>
<text transform="translate(73.30,338.40) scale(0.93,1)" font-size="14" text-anchor="middle" letter-spacing="0.5">J56</text>
<text transform="translate(161.10,338.10) scale(0.93,1)" font-size="14" text-anchor="middle" letter-spacing="0.5">J53</text>
<text transform="translate(89.85,377.95) scale(0.93,1)" font-size="14" text-anchor="middle" letter-spacing="0.5">J55</text>
<text transform="translate(142.30,377.20) scale(0.93,1)" font-size="14" text-anchor="middle" letter-spacing="0.5">J54</text>
<text transform="translate(192.50,383.00) scale(0.93,1)" font-size="14" text-anchor="middle" letter-spacing="0.8">TAG</text>
<text transform="translate(148.00,449.85) scale(0.93,1)" font-size="14" text-anchor="middle" letter-spacing="0.2">CACHE</text>
<text transform="translate(73.55,513.90) scale(0.93,1)" font-size="14" text-anchor="middle" letter-spacing="0.5">J43</text>
<text transform="translate(115.90,531.80) scale(0.93,1)" font-size="14" text-anchor="middle" letter-spacing="0.5">J42</text>
<text transform="translate(194.40,532.30) scale(0.93,1)" font-size="14" text-anchor="middle" letter-spacing="0.5">J41</text>
<text transform="translate(237.10,512.20) scale(0.93,1)" font-size="14" text-anchor="middle" letter-spacing="0.5">J40</text>
<text transform="translate(433.00,161.00) scale(0.93,1)" font-size="14" text-anchor="middle" letter-spacing="0.5">J24</text>
<text transform="translate(467.20,181.50) scale(0.93,1)" font-size="14" text-anchor="middle" letter-spacing="0.5">J22</text>
<text transform="translate(370.15,190.50) scale(0.93,1)" font-size="14" text-anchor="middle" letter-spacing="0.5">J25</text>
<text transform="translate(378.95,211.40) scale(0.93,1)" font-size="14" text-anchor="middle" letter-spacing="0.5">J23</text>
<text transform="translate(513.70,196.35) scale(0.93,1)" font-size="14" text-anchor="middle" letter-spacing="0.5">J21</text>
<text transform="translate(409.80,231.20) scale(0.93,1)" font-size="14" text-anchor="middle" letter-spacing="0.5">J20</text>
<text transform="translate(479.55,231.25) scale(0.93,1)" font-size="14" text-anchor="middle" letter-spacing="0.5">J19</text>
<text transform="translate(285.45,280.50) scale(0.93,1)" font-size="14" text-anchor="middle" letter-spacing="0.5">J29</text>
<text transform="translate(721.75,34.10) scale(0.93,1)" font-size="14" text-anchor="middle" letter-spacing="0.5">J15</text>
<text transform="translate(720.70,54.55) scale(0.93,1)" font-size="14" text-anchor="middle" letter-spacing="0.5">J14</text>
<text transform="translate(694.30,228.60) scale(0.93,1)" font-size="14" text-anchor="middle" letter-spacing="0.5">J75</text>
<text transform="translate(668.95,275.45) scale(0.93,1)" font-size="14" text-anchor="middle" letter-spacing="0.5">J13</text>
<text transform="translate(746.60,274.50) scale(0.93,1)" font-size="14" text-anchor="middle" letter-spacing="0.5">J12</text>
<text transform="translate(723.60,329.50) scale(0.93,1)" font-size="14" text-anchor="middle" letter-spacing="0.5">J11</text>
<text transform="translate(535.40,376.05) scale(0.93,1)" font-size="14" text-anchor="middle" letter-spacing="0.5">J16</text>
<text transform="translate(366.50,399.10) scale(0.93,1)" font-size="14" text-anchor="middle" letter-spacing="0.5">J27</text>
<text transform="translate(348.50,424.10) scale(0.93,1)" font-size="14" text-anchor="middle" letter-spacing="0.5">J28</text>
<text transform="translate(372.65,449.35) scale(0.93,1)" font-size="14" text-anchor="middle" letter-spacing="0.5">J26</text>
<text transform="translate(301.95,31.80) scale(0.93,1)" font-size="14" text-anchor="middle">SL2</text>
<text transform="translate(301.95,76.20) scale(0.93,1)" font-size="14" text-anchor="middle">SL1</text>
<text transform="translate(604.25,207.80) scale(0.93,1)" font-size="14" text-anchor="middle" letter-spacing="0.2">PC4</text>
<text transform="translate(604.25,251.75) scale(0.93,1)" font-size="14" text-anchor="middle" letter-spacing="0.2">PC3</text>
<text transform="translate(604.25,296.80) scale(0.93,1)" font-size="14" text-anchor="middle" letter-spacing="0.2">PC2</text>
<text transform="translate(604.25,341.95) scale(0.93,1)" font-size="14" text-anchor="middle" letter-spacing="0.2">PC1</text>
<polygon points="118.40,267.40 122.40,265.20 130.40,272.40 129.20,277.00 126.60,275.80" fill="#000"/>
<polygon points="119.60,265.40 121.00,266.60 125.50,270.80" fill="#fff"/>
<polygon points="136.40,259.00 142.20,259.00 140.40,277.60 138.20,277.60" fill="#000"/>
<polygon points="138.50,257.50 140.50,257.50 139.60,271.00" fill="#fff"/>
<polygon points="164.20,254.60 170.20,256.80 153.00,277.60 148.00,277.60" fill="#000"/>
<polygon points="167.20,254.20 169.40,255.20 161.50,264.00" fill="#fff"/>
<polygon points="168.40,271.00 173.00,275.20 163.40,283.60 159.20,283.60" fill="#000"/>
<polygon points="169.80,272.80 171.60,274.20 164.00,281.00" fill="#fff"/>
<rect x="96.50" y="407.40" width="14.70" height="74.20" fill="#000"/>
<rect x="97.30" y="408.00" width="13.10" height="73.00" fill="#fff"/>
<text x="103.45" y="420.50" font-size="12.5" text-anchor="middle">B</text>
<text x="103.45" y="435.20" font-size="12.5" text-anchor="middle">A</text>
<text x="103.45" y="449.90" font-size="12.5" text-anchor="middle">N</text>
<text x="103.45" y="464.60" font-size="12.5" text-anchor="middle">K</text>
<text x="103.45" y="479.30" font-size="12.5" text-anchor="middle">1</text>
<rect x="186.00" y="407.40" width="14.80" height="74.20" fill="#000"/>
<rect x="186.80" y="408.00" width="13.20" height="73.00" fill="#fff"/>
<text x="193.00" y="420.50" font-size="12.5" text-anchor="middle">B</text>
<text x="193.00" y="435.20" font-size="12.5" text-anchor="middle">A</text>
<text x="193.00" y="449.90" font-size="12.5" text-anchor="middle">N</text>
<text x="193.00" y="464.60" font-size="12.5" text-anchor="middle">K</text>
<text x="193.00" y="479.30" font-size="12.5" text-anchor="middle">0</text>
<text transform="translate(606.30,53.10) scale(0.9,1)" font-size="12.6" text-anchor="start" letter-spacing="0.3" class="s">MH2512</text>
<text x="716.40" y="213.70" font-size="11.2" text-anchor="start" class="s">12</text>
<text x="752.40" y="214.50" font-size="11.2" text-anchor="start" class="s">3</text>
<text x="715.40" y="242.60" font-size="11.2" text-anchor="start" class="s">10</text>
<text x="79.60" y="277.40" font-size="11.2" text-anchor="start" class="s">6</text>
<text x="79.60" y="293.20" font-size="11.2" text-anchor="start" class="s">5</text>
</svg></body></html>
